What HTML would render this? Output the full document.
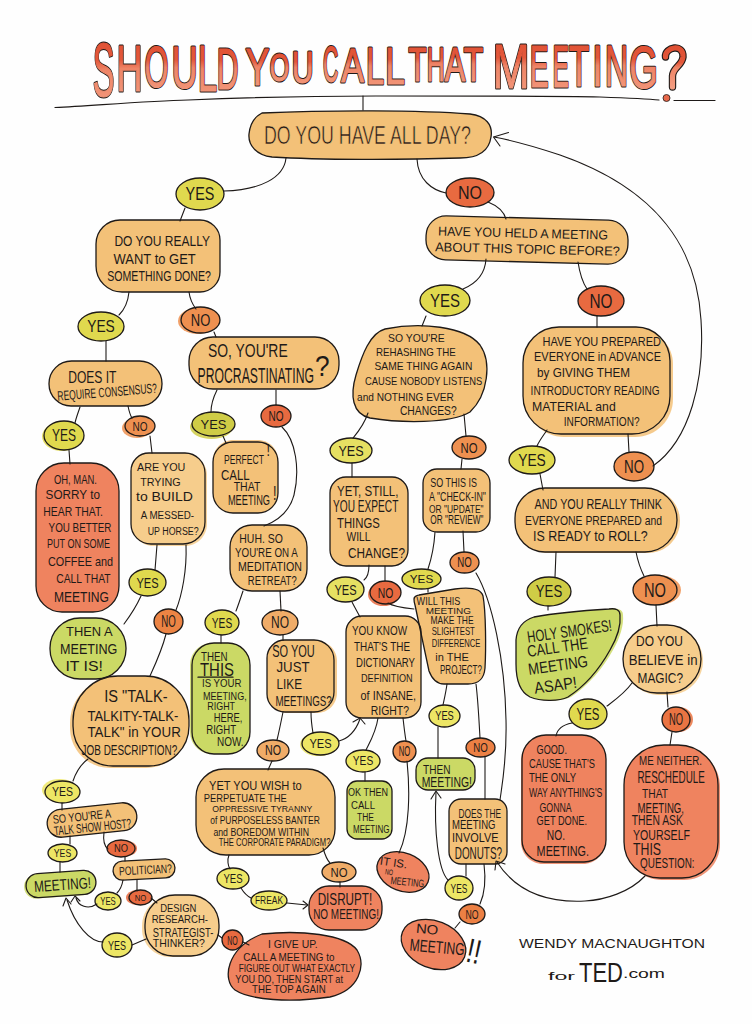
<!DOCTYPE html>
<html><head><meta charset="utf-8"><title>Should you call that meeting?</title>
<style>html,body{margin:0;padding:0;background:#fefefe;}svg{display:block;}
text{font-family:"Liberation Sans",sans-serif;}</style></head>
<body>
<svg width="752" height="1024" viewBox="0 0 752 1024"><defs><linearGradient id="tg" x1="0" y1="0" x2="0" y2="1"><stop offset="0" stop-color="#df5033"/><stop offset="0.38" stop-color="#e3573a"/><stop offset="0.5" stop-color="#ee8466"/><stop offset="1" stop-color="#f39c80"/></linearGradient></defs><rect width="752" height="1024" fill="#fefefe"/><g><path d="M262,113 C330,110 420,110 470,114 C486,116 493,125 491,137 C489,151 478,158 460,158 C400,160 320,160 272,157 C256,155 248,145 249,134 C250,124 254,117 262,113 Z" fill="#f3c178"/><path d="M176.0,194.0 A24.0,16.0 0 1 1 224.0,194.0 A24.0,16.0 0 1 1 176.0,194.0 Z" fill="#e0d94e"/><path d="M446.0,192.5 A24.0,14.5 0 1 1 494.0,192.5 A24.0,14.5 0 1 1 446.0,192.5 Z" fill="#e86a40"/><path d="M446,218 L608,218 C619.046,218 628,226.954 628,238 L628,242 C628,253.046 619.046,262 608,262 L446,262 C434.954,262 426,253.046 426,242 L426,238 C426,226.954 434.954,218 446,218 Z" fill="#f3c178" transform="rotate(1.5 527.0 240.0)"/><path d="M120,220 L200,220 C211.046,220 220,228.954 220,240 L220,272 C220,283.046 211.046,292 200,292 L122,292 C107.6402,292 96,280.3598 96,266 L96,244 C96,230.7448 106.7448,220 120,220 Z" fill="#f3c178"/><path d="M78.0,326.5 A23.0,14.5 0 1 1 124.0,326.5 A23.0,14.5 0 1 1 78.0,326.5 Z" fill="#e0d94e"/><path d="M181.0,320.0 A19.5,13.0 0 1 1 220.0,320.0 A19.5,13.0 0 1 1 181.0,320.0 Z" fill="#ee9050" opacity="0.85" transform="translate(-3 1)"/><path d="M181.0,320.0 A19.5,13.0 0 1 1 220.0,320.0 A19.5,13.0 0 1 1 181.0,320.0 Z" fill="#ee9050"/><path d="M213,337 L315,337 C328.2552,337 339,347.7448 339,361 L339,365 C339,378.2552 328.2552,389 315,389 L213,389 C199.7448,389 189,378.2552 189,365 L189,361 C189,347.7448 199.7448,337 213,337 Z" fill="#f3c178"/><path d="M71.5,361 L139.5,361 C151.92675,361 162,371.07325 162,383.5 L162,384 C162,396.1506 152.1506,406 140,406 L71,406 C58.8494,406 49,396.1506 49,384 L49,383.5 C49,371.07325 59.07325,361 71.5,361 Z" fill="#f3c178"/><path d="M44.0,435.5 A20.0,14.5 0 1 1 84.0,435.5 A20.0,14.5 0 1 1 44.0,435.5 Z" fill="#e0d94e" opacity="0.85" transform="translate(-2 1)"/><path d="M44.0,435.5 A20.0,14.5 0 1 1 84.0,435.5 A20.0,14.5 0 1 1 44.0,435.5 Z" fill="#e0d94e"/><path d="M125.0,426.0 A15.0,10.0 0 1 1 155.0,426.0 A15.0,10.0 0 1 1 125.0,426.0 Z" fill="#ee9050" opacity="0.85" transform="translate(-3 2)"/><path d="M125.0,426.0 A15.0,10.0 0 1 1 155.0,426.0 A15.0,10.0 0 1 1 125.0,426.0 Z" fill="#ee9050"/><path d="M64,463 L91,463 C106.4644,463 119,475.5356 119,491 L119,586 C119,600.3598 107.3598,612 93,612 L62,612 C47.6402,612 36,600.3598 36,586 L36,491 C36,475.5356 48.5356,463 64,463 Z" fill="#ef835f"/><path d="M149,453 L185,453 C196.046,453 205,461.954 205,473 L205,522 C205,534.1506 195.1506,544 183,544 L151,544 C139.954,544 131,535.046 131,524 L131,471 C131,461.0586 139.0586,453 149,453 Z" fill="#f6cd8c" opacity="0.85" transform="translate(2 2)"/><path d="M149,453 L185,453 C196.046,453 205,461.954 205,473 L205,522 C205,534.1506 195.1506,544 183,544 L151,544 C139.954,544 131,535.046 131,524 L131,471 C131,461.0586 139.0586,453 149,453 Z" fill="#f6cd8c"/><path d="M129.0,582.5 A18.5,13.5 0 1 1 166.0,582.5 A18.5,13.5 0 1 1 129.0,582.5 Z" fill="#e0d94e"/><path d="M80,618 L96,618 C112.569,618 126,631.431 126,648 L126,649 C126,665.569 112.569,679 96,679 L80,679 C63.431,679 50,665.569 50,649 L50,648 C50,631.431 63.431,618 80,618 Z" fill="#cbd965"/><path d="M154.0,621.5 A14.5,12.5 0 1 1 183.0,621.5 A14.5,12.5 0 1 1 154.0,621.5 Z" fill="#ec8444"/><path d="M192.0,424.0 A21.5,12.0 0 1 1 235.0,424.0 A21.5,12.0 0 1 1 192.0,424.0 Z" fill="#cfcc46" opacity="0.85" transform="translate(-2 3)"/><path d="M192.0,424.0 A21.5,12.0 0 1 1 235.0,424.0 A21.5,12.0 0 1 1 192.0,424.0 Z" fill="#cfcc46"/><path d="M261.0,416.0 A15.0,11.0 0 1 1 291.0,416.0 A15.0,11.0 0 1 1 261.0,416.0 Z" fill="#e86a40"/><path d="M233,442 L258,442 C269.046,442 278,450.954 278,462 L278,493 C278,504.046 269.046,513 258,513 L233,513 C221.954,513 213,504.046 213,493 L213,462 C213,450.954 221.954,442 233,442 Z" fill="#f3c178" opacity="0.85" transform="translate(0 -2)"/><path d="M233,442 L258,442 C269.046,442 278,450.954 278,462 L278,493 C278,504.046 269.046,513 258,513 L233,513 C221.954,513 213,504.046 213,493 L213,462 C213,450.954 221.954,442 233,442 Z" fill="#f3c178"/><path d="M252,525 L285,525 C297.1506,525 307,534.8494 307,547 L307,569 C307,581.1506 297.1506,591 285,591 L252,591 C239.8494,591 230,581.1506 230,569 L230,547 C230,534.8494 239.8494,525 252,525 Z" fill="#f3c178"/><path d="M205.0,622.5 A17.0,12.5 0 1 1 239.0,622.5 A17.0,12.5 0 1 1 205.0,622.5 Z" fill="#e0d94e"/><path d="M262.0,622.5 A18.0,12.5 0 1 1 298.0,622.5 A18.0,12.5 0 1 1 262.0,622.5 Z" fill="#f0ac68"/><path d="M214,643 L228,643 C240.1506,643 250,652.8494 250,665 L250,732 C250,744.1506 240.1506,754 228,754 L214,754 C201.8494,754 192,744.1506 192,732 L192,665 C192,652.8494 201.8494,643 214,643 Z" fill="#cbd965" opacity="0.85" transform="translate(-2 0)"/><path d="M214,643 L228,643 C240.1506,643 250,652.8494 250,665 L250,732 C250,744.1506 240.1506,754 228,754 L214,754 C201.8494,754 192,744.1506 192,732 L192,665 C192,652.8494 201.8494,643 214,643 Z" fill="#cbd965"/><path d="M285,640 L314,640 C325.046,640 334,648.954 334,660 L334,692 C334,703.046 325.046,712 314,712 L285,712 C275.0586,712 267,703.9414 267,694 L267,658 C267,648.0586 275.0586,640 285,640 Z" fill="#f3c178" opacity="0.85" transform="translate(3 1)"/><path d="M285,640 L314,640 C325.046,640 334,648.954 334,660 L334,692 C334,703.046 325.046,712 314,712 L285,712 C275.0586,712 267,703.9414 267,694 L267,658 C267,648.0586 275.0586,640 285,640 Z" fill="#f3c178"/><path d="M257.0,750.5 A16.0,10.5 0 1 1 289.0,750.5 A16.0,10.5 0 1 1 257.0,750.5 Z" fill="#f0ac68"/><path d="M302.0,743.5 A18.5,11.5 0 1 1 339.0,743.5 A18.5,11.5 0 1 1 302.0,743.5 Z" fill="#ede665" opacity="0.85" transform="translate(-2 1)"/><path d="M302.0,743.5 A18.5,11.5 0 1 1 339.0,743.5 A18.5,11.5 0 1 1 302.0,743.5 Z" fill="#ede665"/><path d="M118.0,676 L145,676 C169.3012,676 189,695.6988 189,720 L189,726 C189,748.092 171.09199999999998,766 149,766 L113,766 C90.908,766 73,748.092 73,726 L73,721.0 C73,696.1465 93.1465,676 118.0,676 Z" fill="#f3c178" opacity="0.85" transform="translate(-3 2)"/><path d="M118.0,676 L145,676 C169.3012,676 189,695.6988 189,720 L189,726 C189,748.092 171.09199999999998,766 149,766 L113,766 C90.908,766 73,748.092 73,726 L73,721.0 C73,696.1465 93.1465,676 118.0,676 Z" fill="#f3c178"/><path d="M45.0,792.0 A17.5,11.0 0 1 1 80.0,792.0 A17.5,11.0 0 1 1 45.0,792.0 Z" fill="#ede665" opacity="0.85" transform="translate(-3 -2)"/><path d="M45.0,792.0 A17.5,11.0 0 1 1 80.0,792.0 A17.5,11.0 0 1 1 45.0,792.0 Z" fill="#ede665"/><path d="M61,806 L123,806 C130.7322,806 137,812.2678 137,820 L137,820 C137,827.7322 130.7322,834 123,834 L61,834 C53.2678,834 47,827.7322 47,820 L47,820 C47,812.2678 53.2678,806 61,806 Z" fill="#f3c178" transform="rotate(-6 92.0 820.0)"/><path d="M48.0,853.0 A14.5,9.0 0 1 1 77.0,853.0 A14.5,9.0 0 1 1 48.0,853.0 Z" fill="#ede665"/><path d="M107.0,848.5 A14.0,8.5 0 1 1 135.0,848.5 A14.0,8.5 0 1 1 107.0,848.5 Z" fill="#e86a40" opacity="0.85" transform="translate(2 0)"/><path d="M107.0,848.5 A14.0,8.5 0 1 1 135.0,848.5 A14.0,8.5 0 1 1 107.0,848.5 Z" fill="#e86a40"/><path d="M38.0,872 L84.0,872 C90.6276,872 96,877.3724 96,884.0 L96,884.0 C96,890.6276 90.6276,896 84.0,896 L38.0,896 C31.3724,896 26,890.6276 26,884.0 L26,884.0 C26,877.3724 31.3724,872 38.0,872 Z" fill="#cbd965" opacity="0.85" transform="translate(-2 1) rotate(-4 61.0 884.0)"/><path d="M38.0,872 L84.0,872 C90.6276,872 96,877.3724 96,884.0 L96,884.0 C96,890.6276 90.6276,896 84.0,896 L38.0,896 C31.3724,896 26,890.6276 26,884.0 L26,884.0 C26,877.3724 31.3724,872 38.0,872 Z" fill="#cbd965" transform="rotate(-4 61.0 884.0)"/><path d="M122.5,860 L165.5,860 C170.74685,860 175,864.25315 175,869.5 L175,869.5 C175,874.74685 170.74685,879 165.5,879 L122.5,879 C117.25315,879 113,874.74685 113,869.5 L113,869.5 C113,864.25315 117.25315,860 122.5,860 Z" fill="#f3c178" transform="rotate(-3 144.0 869.5)"/><path d="M95.0,901.0 A13.0,9.0 0 1 1 121.0,901.0 A13.0,9.0 0 1 1 95.0,901.0 Z" fill="#ede665"/><path d="M129.0,897.5 A11.5,7.5 0 1 1 152.0,897.5 A11.5,7.5 0 1 1 129.0,897.5 Z" fill="#e86a40" opacity="0.85" transform="translate(-3 0)"/><path d="M129.0,897.5 A11.5,7.5 0 1 1 152.0,897.5 A11.5,7.5 0 1 1 129.0,897.5 Z" fill="#e86a40"/><path d="M175,895 L189,895 C205.569,895 219,908.431 219,925 L219,928 C219,943.4644 206.4644,956 191,956 L173,956 C157.5356,956 145,943.4644 145,928 L145,925 C145,908.431 158.431,895 175,895 Z" fill="#f6cd8c" opacity="0.85" transform="translate(-3 1)"/><path d="M175,895 L189,895 C205.569,895 219,908.431 219,925 L219,928 C219,943.4644 206.4644,956 191,956 L173,956 C157.5356,956 145,943.4644 145,928 L145,925 C145,908.431 158.431,895 175,895 Z" fill="#f6cd8c"/><path d="M102.0,945.0 A15.0,12.0 0 1 1 132.0,945.0 A15.0,12.0 0 1 1 102.0,945.0 Z" fill="#ede665"/><path d="M222.0,940.0 A10.5,10.0 0 1 1 243.0,940.0 A10.5,10.0 0 1 1 222.0,940.0 Z" fill="#e86a40"/><path d="M262,934 C300,930 345,934 357,950 C366,965 360,990 330,997 C290,1003 250,1000 235,990 C222,980 226,948 262,934 Z" fill="#ef835f"/><path d="M224,769 L307,769 C322.4644,769 335,781.5356 335,797 L335,829 C335,843.3598 323.3598,855 309,855 L226,855 C209.431,855 196,841.569 196,825 L196,797 C196,781.5356 208.5356,769 224,769 Z" fill="#f3c178"/><path d="M217.0,878.5 A16.0,10.5 0 1 1 249.0,878.5 A16.0,10.5 0 1 1 217.0,878.5 Z" fill="#ede665"/><path d="M251.0,900.5 A18.0,9.5 0 1 1 287.0,900.5 A18.0,9.5 0 1 1 251.0,900.5 Z" fill="#ede665"/><path d="M322.0,872.0 A17.0,10.0 0 1 1 356.0,872.0 A17.0,10.0 0 1 1 322.0,872.0 Z" fill="#f0ac68"/><path d="M329,886 L362,886 C373.046,886 382,894.954 382,906 L382,910 C382,921.046 373.046,930 362,930 L329,930 C317.954,930 309,921.046 309,910 L309,906 C309,894.954 317.954,886 329,886 Z" fill="#ef835f"/><path d="M420.0,300.5 A25.0,15.5 0 1 1 470.0,300.5 A25.0,15.5 0 1 1 420.0,300.5 Z" fill="#e0d94e"/><path d="M385,329 C420,322 465,326 480,345 C492,362 488,395 470,412 C450,424 400,423 370,418 C352,414 350,395 356,375 C362,355 370,333 385,329 Z" fill="#f3c178"/><path d="M452.0,447.5 A17.0,11.5 0 1 1 486.0,447.5 A17.0,11.5 0 1 1 452.0,447.5 Z" fill="#ee9050"/><path d="M330.0,450.5 A21.0,12.5 0 1 1 372.0,450.5 A21.0,12.5 0 1 1 330.0,450.5 Z" fill="#e6e062"/><path d="M346,477 L392,477 C400.8368,477 408,484.1632 408,493 L408,550 C408,558.8368 400.8368,566 392,566 L346,566 C337.1632,566 330,558.8368 330,550 L330,493 C330,484.1632 337.1632,477 346,477 Z" fill="#f3c178"/><path d="M437,469 L476,469 C483.7322,469 490,475.2678 490,483 L490,518 C490,525.7322 483.7322,532 476,532 L437,532 C429.2678,532 423,525.7322 423,518 L423,483 C423,475.2678 429.2678,469 437,469 Z" fill="#f3c178"/><path d="M327.0,589.5 A18.5,12.5 0 1 1 364.0,589.5 A18.5,12.5 0 1 1 327.0,589.5 Z" fill="#e6e062"/><path d="M370.0,592.5 A15.5,11.5 0 1 1 401.0,592.5 A15.5,11.5 0 1 1 370.0,592.5 Z" fill="#e86a40" opacity="0.85" transform="translate(-2 2)"/><path d="M370.0,592.5 A15.5,11.5 0 1 1 401.0,592.5 A15.5,11.5 0 1 1 370.0,592.5 Z" fill="#e86a40"/><path d="M402.0,579.0 A19.5,10.0 0 1 1 441.0,579.0 A19.5,10.0 0 1 1 402.0,579.0 Z" fill="#e0d94e"/><path d="M450.0,562.5 A14.5,10.5 0 1 1 479.0,562.5 A14.5,10.5 0 1 1 450.0,562.5 Z" fill="#ee9050"/><path d="M414,599 C414,596 416,596 419,595 L455,589 C470,587 481,589 483,596 C486,612 486,650 485,668 C484,680 478,684 468,684 L444,684 C436,684 432,679 429,671 L415,605 C414,602 414,600 414,599 Z" fill="#f3c178"/><path d="M362,616 L405,616 C413.8368,616 421,623.1632 421,632 L421,702 C421,710.8368 413.8368,718 405,718 L362,718 C353.1632,718 346,710.8368 346,702 L346,632 C346,623.1632 353.1632,616 362,616 Z" fill="#f3c178"/><path d="M429.0,716.0 A15.5,11.0 0 1 1 460.0,716.0 A15.5,11.0 0 1 1 429.0,716.0 Z" fill="#ede665"/><path d="M466.0,747.5 A14.5,9.5 0 1 1 495.0,747.5 A14.5,9.5 0 1 1 466.0,747.5 Z" fill="#ec8044"/><path d="M393.0,751.5 A11.5,10.5 0 1 1 416.0,751.5 A11.5,10.5 0 1 1 393.0,751.5 Z" fill="#ee9050"/><path d="M346.0,761.0 A17.0,11.0 0 1 1 380.0,761.0 A17.0,11.0 0 1 1 346.0,761.0 Z" fill="#ede665"/><path d="M357,781 L382,781 C387.523,781 392,785.477 392,791 L392,829 C392,834.523 387.523,839 382,839 L357,839 C351.477,839 347,834.523 347,829 L347,791 C347,785.477 351.477,781 357,781 Z" fill="#cbd965"/><path d="M428,758 L463,758 C469.6276,758 475,763.3724 475,770 L475,778 C475,784.6276 469.6276,790 463,790 L428,790 C421.3724,790 416,784.6276 416,778 L416,770 C416,763.3724 421.3724,758 428,758 Z" fill="#cbd965"/><path d="M376.0,872.0 A27.0,19.0 0 1 1 430.0,872.0 A27.0,19.0 0 1 1 376.0,872.0 Z" fill="#ef835f" transform="rotate(22 403.0 872.0)"/><path d="M461,799 L495,799 C501.6276,799 507,804.3724 507,811 L507,852 C507,858.6276 501.6276,864 495,864 L461,864 C454.3724,864 449,858.6276 449,852 L449,811 C449,804.3724 454.3724,799 461,799 Z" fill="#f3c178"/><path d="M445.0,888.0 A14.0,12.0 0 1 1 473.0,888.0 A14.0,12.0 0 1 1 445.0,888.0 Z" fill="#ede665"/><path d="M459.0,914.0 A13.0,10.0 0 1 1 485.0,914.0 A13.0,10.0 0 1 1 459.0,914.0 Z" fill="#ec8044"/><path d="M400.0,944.5 A33.5,23.5 0 1 1 467.0,944.5 A33.5,23.5 0 1 1 400.0,944.5 Z" fill="#ef835f" transform="rotate(22 433.5 944.5)"/><path d="M578.0,301.0 A23.0,15.0 0 1 1 624.0,301.0 A23.0,15.0 0 1 1 578.0,301.0 Z" fill="#e86a40"/><path d="M559,327 L636,327 C654.7782,327 670,342.2218 670,361 L670,396 C670,416.9874 652.9874,434 632,434 L561,434 C540.0126,434 523,416.9874 523,396 L523,363 C523,343.1172 539.1172,327 559,327 Z" fill="#f3c178" opacity="0.85" transform="translate(3 3)"/><path d="M559,327 L636,327 C654.7782,327 670,342.2218 670,361 L670,396 C670,416.9874 652.9874,434 632,434 L561,434 C540.0126,434 523,416.9874 523,396 L523,363 C523,343.1172 539.1172,327 559,327 Z" fill="#f3c178"/><path d="M509.0,460.0 A23.0,14.0 0 1 1 555.0,460.0 A23.0,14.0 0 1 1 509.0,460.0 Z" fill="#e0d94e"/><path d="M614.0,466.5 A20.0,14.5 0 1 1 654.0,466.5 A20.0,14.5 0 1 1 614.0,466.5 Z" fill="#ee9050"/><path d="M545,488 L645,488 C662.6736,488 677,502.3264 677,520 L677,520 C677,537.6736 662.6736,552 645,552 L545,552 C528.431,552 515,538.569 515,522 L515,518 C515,501.431 528.431,488 545,488 Z" fill="#f3c178" opacity="0.85" transform="translate(3 1)"/><path d="M545,488 L645,488 C662.6736,488 677,502.3264 677,520 L677,520 C677,537.6736 662.6736,552 645,552 L545,552 C528.431,552 515,538.569 515,522 L515,518 C515,501.431 528.431,488 545,488 Z" fill="#f3c178"/><path d="M527.0,591.5 A22.0,14.5 0 1 1 571.0,591.5 A22.0,14.5 0 1 1 527.0,591.5 Z" fill="#cfcc46"/><path d="M633.0,590.0 A22.0,15.0 0 1 1 677.0,590.0 A22.0,15.0 0 1 1 633.0,590.0 Z" fill="#ee9050" opacity="0.85" transform="translate(4 0)"/><path d="M633.0,590.0 A22.0,15.0 0 1 1 677.0,590.0 A22.0,15.0 0 1 1 633.0,590.0 Z" fill="#ee9050"/><path d="M534,617 C550,614 575,611 609,609 C616,608 620,610 620,615 C621,625 617,638 610,650 C600,668 585,686 568,697 C558,702 540,701 530,697 C520,692 516,680 516,664 L516,640 C517,628 524,620 534,617 Z" fill="#cbd965" opacity="0.85" transform="translate(3 0)"/><path d="M534,617 C550,614 575,611 609,609 C616,608 620,610 620,615 C621,625 617,638 610,650 C600,668 585,686 568,697 C558,702 540,701 530,697 C520,692 516,680 516,664 L516,640 C517,628 524,620 534,617 Z" fill="#cbd965"/><path d="M657,625 L667,625 C685.7782,625 701,640.2218 701,659 L701,659 C701,677.7782 685.7782,693 667,693 L657,693 C638.2218,693 623,677.7782 623,659 L623,659 C623,640.2218 638.2218,625 657,625 Z" fill="#f6cd8c" opacity="0.85" transform="translate(2 2)"/><path d="M657,625 L667,625 C685.7782,625 701,640.2218 701,659 L701,659 C701,677.7782 685.7782,693 667,693 L657,693 C638.2218,693 623,677.7782 623,659 L623,659 C623,640.2218 638.2218,625 657,625 Z" fill="#f6cd8c"/><path d="M569.0,714.0 A19.0,15.0 0 1 1 607.0,714.0 A19.0,15.0 0 1 1 569.0,714.0 Z" fill="#e0d94e"/><path d="M662.0,719.5 A14.0,12.5 0 1 1 690.0,719.5 A14.0,12.5 0 1 1 662.0,719.5 Z" fill="#ea7442" opacity="0.85" transform="translate(3 0)"/><path d="M662.0,719.5 A14.0,12.5 0 1 1 690.0,719.5 A14.0,12.5 0 1 1 662.0,719.5 Z" fill="#ea7442"/><path d="M546,735 L582,735 C595.2552,735 606,745.7448 606,759 L606,840 C606,852.1506 596.1506,862 584,862 L544,862 C531.8494,862 522,852.1506 522,840 L522,759 C522,745.7448 532.7448,735 546,735 Z" fill="#ef835f" opacity="0.85" transform="translate(-1 2)"/><path d="M546,735 L582,735 C595.2552,735 606,745.7448 606,759 L606,840 C606,852.1506 596.1506,862 584,862 L544,862 C531.8494,862 522,852.1506 522,840 L522,759 C522,745.7448 532.7448,735 546,735 Z" fill="#ef835f"/><path d="M664,745 L678,745 C700.092,745 718,762.908 718,785 L718,842 C718,861.8828 701.8828,878 682,878 L660,878 C640.1172,878 624,861.8828 624,842 L624,785 C624,762.908 641.908,745 664,745 Z" fill="#ef835f" opacity="0.85" transform="translate(2 2)"/><path d="M664,745 L678,745 C700.092,745 718,762.908 718,785 L718,842 C718,861.8828 701.8828,878 682,878 L660,878 C640.1172,878 624,861.8828 624,842 L624,785 C624,762.908 641.908,745 664,745 Z" fill="#ef835f"/></g><g><path d="M55,107.5 C100,105 150,101 188,100 C260,97 320,96 376,96 C470,96 560,96 600,97 C630,98 650,99 659,100" fill="none" stroke="#1e1a18" stroke-width="1.2" stroke-linecap="round" stroke-linejoin="round"/><path d="M674,100.5 L715,100.5" fill="none" stroke="#1e1a18" stroke-width="1.2" stroke-linecap="round" stroke-linejoin="round"/><path d="M363,96 L363,110" fill="none" stroke="#1e1a18" stroke-width="1.1" stroke-linecap="round" stroke-linejoin="round"/><path d="M198,677.2 L233,677.2" fill="none" stroke="#1e1a18" stroke-width="1.3" stroke-linecap="round" stroke-linejoin="round"/><path d="M286,158 C284,178 260,190 224,191" fill="none" stroke="#1e1a18" stroke-width="1.1" stroke-linecap="round" stroke-linejoin="round"/><path d="M417,159 C418,180 432,190 446,193" fill="none" stroke="#1e1a18" stroke-width="1.1" stroke-linecap="round" stroke-linejoin="round"/><path d="M488,202 C498,206 504,212 506,219" fill="none" stroke="#1e1a18" stroke-width="1.1" stroke-linecap="round" stroke-linejoin="round"/><path d="M185,208 L180,221" fill="none" stroke="#1e1a18" stroke-width="1.1" stroke-linecap="round" stroke-linejoin="round"/><path d="M129,292 C128,302 124,310 119,315" fill="none" stroke="#1e1a18" stroke-width="1.1" stroke-linecap="round" stroke-linejoin="round"/><path d="M189,292 C190,300 193,305 196,309" fill="none" stroke="#1e1a18" stroke-width="1.1" stroke-linecap="round" stroke-linejoin="round"/><path d="M214,332 L216,337" fill="none" stroke="#1e1a18" stroke-width="1.1" stroke-linecap="round" stroke-linejoin="round"/><path d="M106,341 L106,361" fill="none" stroke="#1e1a18" stroke-width="1.1" stroke-linecap="round" stroke-linejoin="round"/><path d="M80,407 C78,413 76,418 75,423" fill="none" stroke="#1e1a18" stroke-width="1.1" stroke-linecap="round" stroke-linejoin="round"/><path d="M128,406 C129,411 130,415 132,418" fill="none" stroke="#1e1a18" stroke-width="1.1" stroke-linecap="round" stroke-linejoin="round"/><path d="M69,450 L70,464" fill="none" stroke="#1e1a18" stroke-width="1.1" stroke-linecap="round" stroke-linejoin="round"/><path d="M150,436 L152,453" fill="none" stroke="#1e1a18" stroke-width="1.1" stroke-linecap="round" stroke-linejoin="round"/><path d="M157,545 L155,570" fill="none" stroke="#1e1a18" stroke-width="1.1" stroke-linecap="round" stroke-linejoin="round"/><path d="M141,596 C136,607 130,616 124,624" fill="none" stroke="#1e1a18" stroke-width="1.1" stroke-linecap="round" stroke-linejoin="round"/><path d="M186,545 C187,570 182,595 176,610" fill="none" stroke="#1e1a18" stroke-width="1.1" stroke-linecap="round" stroke-linejoin="round"/><path d="M166,634 C162,650 155,665 150,676" fill="none" stroke="#1e1a18" stroke-width="1.1" stroke-linecap="round" stroke-linejoin="round"/><path d="M217,390 C213,398 211,405 211,412" fill="none" stroke="#1e1a18" stroke-width="1.1" stroke-linecap="round" stroke-linejoin="round"/><path d="M276,390 L276,405" fill="none" stroke="#1e1a18" stroke-width="1.1" stroke-linecap="round" stroke-linejoin="round"/><path d="M223,436 L226,443" fill="none" stroke="#1e1a18" stroke-width="1.1" stroke-linecap="round" stroke-linejoin="round"/><path d="M282,427 C296,440 300,470 294,495 C290,510 280,520 264,526" fill="none" stroke="#1e1a18" stroke-width="1.1" stroke-linecap="round" stroke-linejoin="round"/><path d="M243,591 C240,600 238,606 236,611" fill="none" stroke="#1e1a18" stroke-width="1.1" stroke-linecap="round" stroke-linejoin="round"/><path d="M280,591 L281,611" fill="none" stroke="#1e1a18" stroke-width="1.1" stroke-linecap="round" stroke-linejoin="round"/><path d="M221,635 L221,643" fill="none" stroke="#1e1a18" stroke-width="1.1" stroke-linecap="round" stroke-linejoin="round"/><path d="M283,635 L283,640" fill="none" stroke="#1e1a18" stroke-width="1.1" stroke-linecap="round" stroke-linejoin="round"/><path d="M283,712 C281,722 279,732 277,740" fill="none" stroke="#1e1a18" stroke-width="1.1" stroke-linecap="round" stroke-linejoin="round"/><path d="M311,712 C311,720 312,727 313,733" fill="none" stroke="#1e1a18" stroke-width="1.1" stroke-linecap="round" stroke-linejoin="round"/><path d="M339,741 C350,738 356,730 360,719" fill="none" stroke="#1e1a18" stroke-width="1.1" stroke-linecap="round" stroke-linejoin="round"/><path d="M353,722 L360,718 L365,724" fill="none" stroke="#1e1a18" stroke-width="1.1" stroke-linecap="round" stroke-linejoin="round"/><path d="M272,761 L268,770" fill="none" stroke="#1e1a18" stroke-width="1.1" stroke-linecap="round" stroke-linejoin="round"/><path d="M88,759 C80,765 76,772 73,781" fill="none" stroke="#1e1a18" stroke-width="1.1" stroke-linecap="round" stroke-linejoin="round"/><path d="M62,803 L62,810" fill="none" stroke="#1e1a18" stroke-width="1.1" stroke-linecap="round" stroke-linejoin="round"/><path d="M70,836 L70,844" fill="none" stroke="#1e1a18" stroke-width="1.1" stroke-linecap="round" stroke-linejoin="round"/><path d="M104,832 C103,840 104,846 108,849" fill="none" stroke="#1e1a18" stroke-width="1.1" stroke-linecap="round" stroke-linejoin="round"/><path d="M60,862 L60,872" fill="none" stroke="#1e1a18" stroke-width="1.1" stroke-linecap="round" stroke-linejoin="round"/><path d="M125,857 L125,861" fill="none" stroke="#1e1a18" stroke-width="1.1" stroke-linecap="round" stroke-linejoin="round"/><path d="M123,880 C122,886 120,890 117,893" fill="none" stroke="#1e1a18" stroke-width="1.1" stroke-linecap="round" stroke-linejoin="round"/><path d="M137,880 L137,891" fill="none" stroke="#1e1a18" stroke-width="1.1" stroke-linecap="round" stroke-linejoin="round"/><path d="M97,904 C88,910 78,906 76,898" fill="none" stroke="#1e1a18" stroke-width="1.1" stroke-linecap="round" stroke-linejoin="round"/><path d="M71,902 L75,896 L80,901" fill="none" stroke="#1e1a18" stroke-width="1.1" stroke-linecap="round" stroke-linejoin="round"/><path d="M103,942 C90,942 75,925 67,900" fill="none" stroke="#1e1a18" stroke-width="1.1" stroke-linecap="round" stroke-linejoin="round"/><path d="M63,906 L66,898 L71,904" fill="none" stroke="#1e1a18" stroke-width="1.1" stroke-linecap="round" stroke-linejoin="round"/><path d="M151,898 L157,903" fill="none" stroke="#1e1a18" stroke-width="1.1" stroke-linecap="round" stroke-linejoin="round"/><path d="M132,945 L146,939" fill="none" stroke="#1e1a18" stroke-width="1.1" stroke-linecap="round" stroke-linejoin="round"/><path d="M218,935 L222,938" fill="none" stroke="#1e1a18" stroke-width="1.1" stroke-linecap="round" stroke-linejoin="round"/><path d="M243,942 L249,945" fill="none" stroke="#1e1a18" stroke-width="1.1" stroke-linecap="round" stroke-linejoin="round"/><path d="M229,855 C227,860 228,866 230,869" fill="none" stroke="#1e1a18" stroke-width="1.1" stroke-linecap="round" stroke-linejoin="round"/><path d="M241,888 C244,893 247,896 251,898" fill="none" stroke="#1e1a18" stroke-width="1.1" stroke-linecap="round" stroke-linejoin="round"/><path d="M287,903 L307,905" fill="none" stroke="#1e1a18" stroke-width="1.1" stroke-linecap="round" stroke-linejoin="round"/><path d="M303,901 L308,905 L303,909" fill="none" stroke="#1e1a18" stroke-width="1.1" stroke-linecap="round" stroke-linejoin="round"/><path d="M323,848 C325,855 327,860 330,863" fill="none" stroke="#1e1a18" stroke-width="1.1" stroke-linecap="round" stroke-linejoin="round"/><path d="M340,882 L340,887" fill="none" stroke="#1e1a18" stroke-width="1.1" stroke-linecap="round" stroke-linejoin="round"/><path d="M486,259 C485,275 475,284 463,289" fill="none" stroke="#1e1a18" stroke-width="1.1" stroke-linecap="round" stroke-linejoin="round"/><path d="M578,262 C580,275 583,283 587,289" fill="none" stroke="#1e1a18" stroke-width="1.1" stroke-linecap="round" stroke-linejoin="round"/><path d="M426,316 L422,326" fill="none" stroke="#1e1a18" stroke-width="1.1" stroke-linecap="round" stroke-linejoin="round"/><path d="M368,413 C364,425 358,432 353,438" fill="none" stroke="#1e1a18" stroke-width="1.1" stroke-linecap="round" stroke-linejoin="round"/><path d="M464,414 L466,436" fill="none" stroke="#1e1a18" stroke-width="1.1" stroke-linecap="round" stroke-linejoin="round"/><path d="M462,459 L461,469" fill="none" stroke="#1e1a18" stroke-width="1.1" stroke-linecap="round" stroke-linejoin="round"/><path d="M352,463 L352,477" fill="none" stroke="#1e1a18" stroke-width="1.1" stroke-linecap="round" stroke-linejoin="round"/><path d="M369,565 C369,572 368,577 364,580" fill="none" stroke="#1e1a18" stroke-width="1.1" stroke-linecap="round" stroke-linejoin="round"/><path d="M385,566 L385,581" fill="none" stroke="#1e1a18" stroke-width="1.1" stroke-linecap="round" stroke-linejoin="round"/><path d="M435,532 C434,548 431,560 428,569" fill="none" stroke="#1e1a18" stroke-width="1.1" stroke-linecap="round" stroke-linejoin="round"/><path d="M463,531 L464,552" fill="none" stroke="#1e1a18" stroke-width="1.1" stroke-linecap="round" stroke-linejoin="round"/><path d="M476,573 C492,600 505,660 506,720 C507,760 502,785 500,800" fill="none" stroke="#1e1a18" stroke-width="1.1" stroke-linecap="round" stroke-linejoin="round"/><path d="M388,603 C394,607 404,608 414,609" fill="none" stroke="#1e1a18" stroke-width="1.1" stroke-linecap="round" stroke-linejoin="round"/><path d="M352,602 C355,608 358,613 360,617" fill="none" stroke="#1e1a18" stroke-width="1.1" stroke-linecap="round" stroke-linejoin="round"/><path d="M428,589 L428,592" fill="none" stroke="#1e1a18" stroke-width="1.1" stroke-linecap="round" stroke-linejoin="round"/><path d="M447,684 C446,692 444,700 443,705" fill="none" stroke="#1e1a18" stroke-width="1.1" stroke-linecap="round" stroke-linejoin="round"/><path d="M476,684 C478,700 479,720 480,738" fill="none" stroke="#1e1a18" stroke-width="1.1" stroke-linecap="round" stroke-linejoin="round"/><path d="M378,718 C376,732 370,742 366,750" fill="none" stroke="#1e1a18" stroke-width="1.1" stroke-linecap="round" stroke-linejoin="round"/><path d="M403,718 C404,727 405,735 406,741" fill="none" stroke="#1e1a18" stroke-width="1.1" stroke-linecap="round" stroke-linejoin="round"/><path d="M365,772 L365,781" fill="none" stroke="#1e1a18" stroke-width="1.1" stroke-linecap="round" stroke-linejoin="round"/><path d="M407,761 C410,790 410,830 399,853" fill="none" stroke="#1e1a18" stroke-width="1.1" stroke-linecap="round" stroke-linejoin="round"/><path d="M438,727 L438,758" fill="none" stroke="#1e1a18" stroke-width="1.1" stroke-linecap="round" stroke-linejoin="round"/><path d="M485,756 L485,799" fill="none" stroke="#1e1a18" stroke-width="1.1" stroke-linecap="round" stroke-linejoin="round"/><path d="M466,864 L466,876" fill="none" stroke="#1e1a18" stroke-width="1.1" stroke-linecap="round" stroke-linejoin="round"/><path d="M484,864 C486,880 484,895 480,904" fill="none" stroke="#1e1a18" stroke-width="1.1" stroke-linecap="round" stroke-linejoin="round"/><path d="M448,880 C438,870 434,830 436,792" fill="none" stroke="#1e1a18" stroke-width="1.1" stroke-linecap="round" stroke-linejoin="round"/><path d="M431,799 L436,791 L441,798" fill="none" stroke="#1e1a18" stroke-width="1.1" stroke-linecap="round" stroke-linejoin="round"/><path d="M460,922 L455,928" fill="none" stroke="#1e1a18" stroke-width="1.1" stroke-linecap="round" stroke-linejoin="round"/><path d="M597,316 L597,327" fill="none" stroke="#1e1a18" stroke-width="1.1" stroke-linecap="round" stroke-linejoin="round"/><path d="M547,430 C543,436 539,441 537,446" fill="none" stroke="#1e1a18" stroke-width="1.1" stroke-linecap="round" stroke-linejoin="round"/><path d="M628,434 L629,452" fill="none" stroke="#1e1a18" stroke-width="1.1" stroke-linecap="round" stroke-linejoin="round"/><path d="M653,466 C690,440 705,380 701,320 C697,250 660,190 560,155 C530,145 510,140 494,137" fill="none" stroke="#1e1a18" stroke-width="1.1" stroke-linecap="round" stroke-linejoin="round"/><path d="M508.5,132.5 L493.5,137 L500,146" fill="none" stroke="#1e1a18" stroke-width="1.1" stroke-linecap="round" stroke-linejoin="round"/><path d="M540,474 L543,490" fill="none" stroke="#1e1a18" stroke-width="1.1" stroke-linecap="round" stroke-linejoin="round"/><path d="M556,552 L555,577" fill="none" stroke="#1e1a18" stroke-width="1.1" stroke-linecap="round" stroke-linejoin="round"/><path d="M636,552 C638,562 641,570 644,576" fill="none" stroke="#1e1a18" stroke-width="1.1" stroke-linecap="round" stroke-linejoin="round"/><path d="M548,606 L548,610" fill="none" stroke="#1e1a18" stroke-width="1.1" stroke-linecap="round" stroke-linejoin="round"/><path d="M656,605 L657,626" fill="none" stroke="#1e1a18" stroke-width="1.1" stroke-linecap="round" stroke-linejoin="round"/><path d="M632,683 C625,693 615,700 607,706" fill="none" stroke="#1e1a18" stroke-width="1.1" stroke-linecap="round" stroke-linejoin="round"/><path d="M667,692 L668,707" fill="none" stroke="#1e1a18" stroke-width="1.1" stroke-linecap="round" stroke-linejoin="round"/><path d="M572,723 C562,725 557,730 556,736" fill="none" stroke="#1e1a18" stroke-width="1.1" stroke-linecap="round" stroke-linejoin="round"/><path d="M672,732 L670,745" fill="none" stroke="#1e1a18" stroke-width="1.1" stroke-linecap="round" stroke-linejoin="round"/><path d="M645,876 C630,892 605,900 585,901 C545,903 515,890 497,862" fill="none" stroke="#1e1a18" stroke-width="1.1" stroke-linecap="round" stroke-linejoin="round"/><path d="M495,870 L496,861 L505,864" fill="none" stroke="#1e1a18" stroke-width="1.1" stroke-linecap="round" stroke-linejoin="round"/></g><g><path d="M262,113 C330,110 420,110 470,114 C486,116 493,125 491,137 C489,151 478,158 460,158 C400,160 320,160 272,157 C256,155 248,145 249,134 C250,124 254,117 262,113 Z" fill="none" stroke="#1e1a18" stroke-width="1.3"/><path d="M176.0,194.0 A24.0,16.0 0 1 1 224.0,194.0 A24.0,16.0 0 1 1 176.0,194.0 Z" fill="none" stroke="#1e1a18" stroke-width="1.3"/><path d="M446.0,192.5 A24.0,14.5 0 1 1 494.0,192.5 A24.0,14.5 0 1 1 446.0,192.5 Z" fill="none" stroke="#1e1a18" stroke-width="1.3"/><path d="M446,218 L608,218 C619.046,218 628,226.954 628,238 L628,242 C628,253.046 619.046,262 608,262 L446,262 C434.954,262 426,253.046 426,242 L426,238 C426,226.954 434.954,218 446,218 Z" fill="none" stroke="#1e1a18" stroke-width="1.3" transform="rotate(1.5 527.0 240.0)"/><path d="M120,220 L200,220 C211.046,220 220,228.954 220,240 L220,272 C220,283.046 211.046,292 200,292 L122,292 C107.6402,292 96,280.3598 96,266 L96,244 C96,230.7448 106.7448,220 120,220 Z" fill="none" stroke="#1e1a18" stroke-width="1.3"/><path d="M78.0,326.5 A23.0,14.5 0 1 1 124.0,326.5 A23.0,14.5 0 1 1 78.0,326.5 Z" fill="none" stroke="#1e1a18" stroke-width="1.3"/><path d="M181.0,320.0 A19.5,13.0 0 1 1 220.0,320.0 A19.5,13.0 0 1 1 181.0,320.0 Z" fill="none" stroke="#1e1a18" stroke-width="1.3"/><path d="M213,337 L315,337 C328.2552,337 339,347.7448 339,361 L339,365 C339,378.2552 328.2552,389 315,389 L213,389 C199.7448,389 189,378.2552 189,365 L189,361 C189,347.7448 199.7448,337 213,337 Z" fill="none" stroke="#1e1a18" stroke-width="1.3"/><path d="M71.5,361 L139.5,361 C151.92675,361 162,371.07325 162,383.5 L162,384 C162,396.1506 152.1506,406 140,406 L71,406 C58.8494,406 49,396.1506 49,384 L49,383.5 C49,371.07325 59.07325,361 71.5,361 Z" fill="none" stroke="#1e1a18" stroke-width="1.3"/><path d="M44.0,435.5 A20.0,14.5 0 1 1 84.0,435.5 A20.0,14.5 0 1 1 44.0,435.5 Z" fill="none" stroke="#1e1a18" stroke-width="1.3"/><path d="M125.0,426.0 A15.0,10.0 0 1 1 155.0,426.0 A15.0,10.0 0 1 1 125.0,426.0 Z" fill="none" stroke="#1e1a18" stroke-width="1.3"/><path d="M64,463 L91,463 C106.4644,463 119,475.5356 119,491 L119,586 C119,600.3598 107.3598,612 93,612 L62,612 C47.6402,612 36,600.3598 36,586 L36,491 C36,475.5356 48.5356,463 64,463 Z" fill="none" stroke="#1e1a18" stroke-width="1.3"/><path d="M149,453 L185,453 C196.046,453 205,461.954 205,473 L205,522 C205,534.1506 195.1506,544 183,544 L151,544 C139.954,544 131,535.046 131,524 L131,471 C131,461.0586 139.0586,453 149,453 Z" fill="none" stroke="#1e1a18" stroke-width="1.3"/><path d="M129.0,582.5 A18.5,13.5 0 1 1 166.0,582.5 A18.5,13.5 0 1 1 129.0,582.5 Z" fill="none" stroke="#1e1a18" stroke-width="1.3"/><path d="M80,618 L96,618 C112.569,618 126,631.431 126,648 L126,649 C126,665.569 112.569,679 96,679 L80,679 C63.431,679 50,665.569 50,649 L50,648 C50,631.431 63.431,618 80,618 Z" fill="none" stroke="#1e1a18" stroke-width="1.3"/><path d="M154.0,621.5 A14.5,12.5 0 1 1 183.0,621.5 A14.5,12.5 0 1 1 154.0,621.5 Z" fill="none" stroke="#1e1a18" stroke-width="1.3"/><path d="M192.0,424.0 A21.5,12.0 0 1 1 235.0,424.0 A21.5,12.0 0 1 1 192.0,424.0 Z" fill="none" stroke="#1e1a18" stroke-width="1.3"/><path d="M261.0,416.0 A15.0,11.0 0 1 1 291.0,416.0 A15.0,11.0 0 1 1 261.0,416.0 Z" fill="none" stroke="#1e1a18" stroke-width="1.3"/><path d="M233,442 L258,442 C269.046,442 278,450.954 278,462 L278,493 C278,504.046 269.046,513 258,513 L233,513 C221.954,513 213,504.046 213,493 L213,462 C213,450.954 221.954,442 233,442 Z" fill="none" stroke="#1e1a18" stroke-width="1.3"/><path d="M252,525 L285,525 C297.1506,525 307,534.8494 307,547 L307,569 C307,581.1506 297.1506,591 285,591 L252,591 C239.8494,591 230,581.1506 230,569 L230,547 C230,534.8494 239.8494,525 252,525 Z" fill="none" stroke="#1e1a18" stroke-width="1.3"/><path d="M205.0,622.5 A17.0,12.5 0 1 1 239.0,622.5 A17.0,12.5 0 1 1 205.0,622.5 Z" fill="none" stroke="#1e1a18" stroke-width="1.3"/><path d="M262.0,622.5 A18.0,12.5 0 1 1 298.0,622.5 A18.0,12.5 0 1 1 262.0,622.5 Z" fill="none" stroke="#1e1a18" stroke-width="1.3"/><path d="M214,643 L228,643 C240.1506,643 250,652.8494 250,665 L250,732 C250,744.1506 240.1506,754 228,754 L214,754 C201.8494,754 192,744.1506 192,732 L192,665 C192,652.8494 201.8494,643 214,643 Z" fill="none" stroke="#1e1a18" stroke-width="1.3"/><path d="M285,640 L314,640 C325.046,640 334,648.954 334,660 L334,692 C334,703.046 325.046,712 314,712 L285,712 C275.0586,712 267,703.9414 267,694 L267,658 C267,648.0586 275.0586,640 285,640 Z" fill="none" stroke="#1e1a18" stroke-width="1.3"/><path d="M257.0,750.5 A16.0,10.5 0 1 1 289.0,750.5 A16.0,10.5 0 1 1 257.0,750.5 Z" fill="none" stroke="#1e1a18" stroke-width="1.3"/><path d="M302.0,743.5 A18.5,11.5 0 1 1 339.0,743.5 A18.5,11.5 0 1 1 302.0,743.5 Z" fill="none" stroke="#1e1a18" stroke-width="1.3"/><path d="M118.0,676 L145,676 C169.3012,676 189,695.6988 189,720 L189,726 C189,748.092 171.09199999999998,766 149,766 L113,766 C90.908,766 73,748.092 73,726 L73,721.0 C73,696.1465 93.1465,676 118.0,676 Z" fill="none" stroke="#1e1a18" stroke-width="1.3"/><path d="M45.0,792.0 A17.5,11.0 0 1 1 80.0,792.0 A17.5,11.0 0 1 1 45.0,792.0 Z" fill="none" stroke="#1e1a18" stroke-width="1.3"/><path d="M61,806 L123,806 C130.7322,806 137,812.2678 137,820 L137,820 C137,827.7322 130.7322,834 123,834 L61,834 C53.2678,834 47,827.7322 47,820 L47,820 C47,812.2678 53.2678,806 61,806 Z" fill="none" stroke="#1e1a18" stroke-width="1.3" transform="rotate(-6 92.0 820.0)"/><path d="M48.0,853.0 A14.5,9.0 0 1 1 77.0,853.0 A14.5,9.0 0 1 1 48.0,853.0 Z" fill="none" stroke="#1e1a18" stroke-width="1.3"/><path d="M107.0,848.5 A14.0,8.5 0 1 1 135.0,848.5 A14.0,8.5 0 1 1 107.0,848.5 Z" fill="none" stroke="#1e1a18" stroke-width="1.3"/><path d="M38.0,872 L84.0,872 C90.6276,872 96,877.3724 96,884.0 L96,884.0 C96,890.6276 90.6276,896 84.0,896 L38.0,896 C31.3724,896 26,890.6276 26,884.0 L26,884.0 C26,877.3724 31.3724,872 38.0,872 Z" fill="none" stroke="#1e1a18" stroke-width="1.3" transform="rotate(-4 61.0 884.0)"/><path d="M122.5,860 L165.5,860 C170.74685,860 175,864.25315 175,869.5 L175,869.5 C175,874.74685 170.74685,879 165.5,879 L122.5,879 C117.25315,879 113,874.74685 113,869.5 L113,869.5 C113,864.25315 117.25315,860 122.5,860 Z" fill="none" stroke="#1e1a18" stroke-width="1.3" transform="rotate(-3 144.0 869.5)"/><path d="M95.0,901.0 A13.0,9.0 0 1 1 121.0,901.0 A13.0,9.0 0 1 1 95.0,901.0 Z" fill="none" stroke="#1e1a18" stroke-width="1.3"/><path d="M129.0,897.5 A11.5,7.5 0 1 1 152.0,897.5 A11.5,7.5 0 1 1 129.0,897.5 Z" fill="none" stroke="#1e1a18" stroke-width="1.3"/><path d="M175,895 L189,895 C205.569,895 219,908.431 219,925 L219,928 C219,943.4644 206.4644,956 191,956 L173,956 C157.5356,956 145,943.4644 145,928 L145,925 C145,908.431 158.431,895 175,895 Z" fill="none" stroke="#1e1a18" stroke-width="1.3"/><path d="M102.0,945.0 A15.0,12.0 0 1 1 132.0,945.0 A15.0,12.0 0 1 1 102.0,945.0 Z" fill="none" stroke="#1e1a18" stroke-width="1.3"/><path d="M222.0,940.0 A10.5,10.0 0 1 1 243.0,940.0 A10.5,10.0 0 1 1 222.0,940.0 Z" fill="none" stroke="#1e1a18" stroke-width="1.3"/><path d="M262,934 C300,930 345,934 357,950 C366,965 360,990 330,997 C290,1003 250,1000 235,990 C222,980 226,948 262,934 Z" fill="none" stroke="#1e1a18" stroke-width="1.3"/><path d="M224,769 L307,769 C322.4644,769 335,781.5356 335,797 L335,829 C335,843.3598 323.3598,855 309,855 L226,855 C209.431,855 196,841.569 196,825 L196,797 C196,781.5356 208.5356,769 224,769 Z" fill="none" stroke="#1e1a18" stroke-width="1.3"/><path d="M217.0,878.5 A16.0,10.5 0 1 1 249.0,878.5 A16.0,10.5 0 1 1 217.0,878.5 Z" fill="none" stroke="#1e1a18" stroke-width="1.3"/><path d="M251.0,900.5 A18.0,9.5 0 1 1 287.0,900.5 A18.0,9.5 0 1 1 251.0,900.5 Z" fill="none" stroke="#1e1a18" stroke-width="1.3"/><path d="M322.0,872.0 A17.0,10.0 0 1 1 356.0,872.0 A17.0,10.0 0 1 1 322.0,872.0 Z" fill="none" stroke="#1e1a18" stroke-width="1.3"/><path d="M329,886 L362,886 C373.046,886 382,894.954 382,906 L382,910 C382,921.046 373.046,930 362,930 L329,930 C317.954,930 309,921.046 309,910 L309,906 C309,894.954 317.954,886 329,886 Z" fill="none" stroke="#1e1a18" stroke-width="1.3"/><path d="M420.0,300.5 A25.0,15.5 0 1 1 470.0,300.5 A25.0,15.5 0 1 1 420.0,300.5 Z" fill="none" stroke="#1e1a18" stroke-width="1.3"/><path d="M385,329 C420,322 465,326 480,345 C492,362 488,395 470,412 C450,424 400,423 370,418 C352,414 350,395 356,375 C362,355 370,333 385,329 Z" fill="none" stroke="#1e1a18" stroke-width="1.3"/><path d="M452.0,447.5 A17.0,11.5 0 1 1 486.0,447.5 A17.0,11.5 0 1 1 452.0,447.5 Z" fill="none" stroke="#1e1a18" stroke-width="1.3"/><path d="M330.0,450.5 A21.0,12.5 0 1 1 372.0,450.5 A21.0,12.5 0 1 1 330.0,450.5 Z" fill="none" stroke="#1e1a18" stroke-width="1.3"/><path d="M346,477 L392,477 C400.8368,477 408,484.1632 408,493 L408,550 C408,558.8368 400.8368,566 392,566 L346,566 C337.1632,566 330,558.8368 330,550 L330,493 C330,484.1632 337.1632,477 346,477 Z" fill="none" stroke="#1e1a18" stroke-width="1.3"/><path d="M437,469 L476,469 C483.7322,469 490,475.2678 490,483 L490,518 C490,525.7322 483.7322,532 476,532 L437,532 C429.2678,532 423,525.7322 423,518 L423,483 C423,475.2678 429.2678,469 437,469 Z" fill="none" stroke="#1e1a18" stroke-width="1.3"/><path d="M327.0,589.5 A18.5,12.5 0 1 1 364.0,589.5 A18.5,12.5 0 1 1 327.0,589.5 Z" fill="none" stroke="#1e1a18" stroke-width="1.3"/><path d="M370.0,592.5 A15.5,11.5 0 1 1 401.0,592.5 A15.5,11.5 0 1 1 370.0,592.5 Z" fill="none" stroke="#1e1a18" stroke-width="1.3"/><path d="M402.0,579.0 A19.5,10.0 0 1 1 441.0,579.0 A19.5,10.0 0 1 1 402.0,579.0 Z" fill="none" stroke="#1e1a18" stroke-width="1.3"/><path d="M450.0,562.5 A14.5,10.5 0 1 1 479.0,562.5 A14.5,10.5 0 1 1 450.0,562.5 Z" fill="none" stroke="#1e1a18" stroke-width="1.3"/><path d="M414,599 C414,596 416,596 419,595 L455,589 C470,587 481,589 483,596 C486,612 486,650 485,668 C484,680 478,684 468,684 L444,684 C436,684 432,679 429,671 L415,605 C414,602 414,600 414,599 Z" fill="none" stroke="#1e1a18" stroke-width="1.3"/><path d="M362,616 L405,616 C413.8368,616 421,623.1632 421,632 L421,702 C421,710.8368 413.8368,718 405,718 L362,718 C353.1632,718 346,710.8368 346,702 L346,632 C346,623.1632 353.1632,616 362,616 Z" fill="none" stroke="#1e1a18" stroke-width="1.3"/><path d="M429.0,716.0 A15.5,11.0 0 1 1 460.0,716.0 A15.5,11.0 0 1 1 429.0,716.0 Z" fill="none" stroke="#1e1a18" stroke-width="1.3"/><path d="M466.0,747.5 A14.5,9.5 0 1 1 495.0,747.5 A14.5,9.5 0 1 1 466.0,747.5 Z" fill="none" stroke="#1e1a18" stroke-width="1.3"/><path d="M393.0,751.5 A11.5,10.5 0 1 1 416.0,751.5 A11.5,10.5 0 1 1 393.0,751.5 Z" fill="none" stroke="#1e1a18" stroke-width="1.3"/><path d="M346.0,761.0 A17.0,11.0 0 1 1 380.0,761.0 A17.0,11.0 0 1 1 346.0,761.0 Z" fill="none" stroke="#1e1a18" stroke-width="1.3"/><path d="M357,781 L382,781 C387.523,781 392,785.477 392,791 L392,829 C392,834.523 387.523,839 382,839 L357,839 C351.477,839 347,834.523 347,829 L347,791 C347,785.477 351.477,781 357,781 Z" fill="none" stroke="#1e1a18" stroke-width="1.3"/><path d="M428,758 L463,758 C469.6276,758 475,763.3724 475,770 L475,778 C475,784.6276 469.6276,790 463,790 L428,790 C421.3724,790 416,784.6276 416,778 L416,770 C416,763.3724 421.3724,758 428,758 Z" fill="none" stroke="#1e1a18" stroke-width="1.3"/><path d="M376.0,872.0 A27.0,19.0 0 1 1 430.0,872.0 A27.0,19.0 0 1 1 376.0,872.0 Z" fill="none" stroke="#1e1a18" stroke-width="1.3" transform="rotate(22 403.0 872.0)"/><path d="M461,799 L495,799 C501.6276,799 507,804.3724 507,811 L507,852 C507,858.6276 501.6276,864 495,864 L461,864 C454.3724,864 449,858.6276 449,852 L449,811 C449,804.3724 454.3724,799 461,799 Z" fill="none" stroke="#1e1a18" stroke-width="1.3"/><path d="M445.0,888.0 A14.0,12.0 0 1 1 473.0,888.0 A14.0,12.0 0 1 1 445.0,888.0 Z" fill="none" stroke="#1e1a18" stroke-width="1.3"/><path d="M459.0,914.0 A13.0,10.0 0 1 1 485.0,914.0 A13.0,10.0 0 1 1 459.0,914.0 Z" fill="none" stroke="#1e1a18" stroke-width="1.3"/><path d="M400.0,944.5 A33.5,23.5 0 1 1 467.0,944.5 A33.5,23.5 0 1 1 400.0,944.5 Z" fill="none" stroke="#1e1a18" stroke-width="1.3" transform="rotate(22 433.5 944.5)"/><path d="M578.0,301.0 A23.0,15.0 0 1 1 624.0,301.0 A23.0,15.0 0 1 1 578.0,301.0 Z" fill="none" stroke="#1e1a18" stroke-width="1.3"/><path d="M559,327 L636,327 C654.7782,327 670,342.2218 670,361 L670,396 C670,416.9874 652.9874,434 632,434 L561,434 C540.0126,434 523,416.9874 523,396 L523,363 C523,343.1172 539.1172,327 559,327 Z" fill="none" stroke="#1e1a18" stroke-width="1.3"/><path d="M509.0,460.0 A23.0,14.0 0 1 1 555.0,460.0 A23.0,14.0 0 1 1 509.0,460.0 Z" fill="none" stroke="#1e1a18" stroke-width="1.3"/><path d="M614.0,466.5 A20.0,14.5 0 1 1 654.0,466.5 A20.0,14.5 0 1 1 614.0,466.5 Z" fill="none" stroke="#1e1a18" stroke-width="1.3"/><path d="M545,488 L645,488 C662.6736,488 677,502.3264 677,520 L677,520 C677,537.6736 662.6736,552 645,552 L545,552 C528.431,552 515,538.569 515,522 L515,518 C515,501.431 528.431,488 545,488 Z" fill="none" stroke="#1e1a18" stroke-width="1.3"/><path d="M527.0,591.5 A22.0,14.5 0 1 1 571.0,591.5 A22.0,14.5 0 1 1 527.0,591.5 Z" fill="none" stroke="#1e1a18" stroke-width="1.3"/><path d="M633.0,590.0 A22.0,15.0 0 1 1 677.0,590.0 A22.0,15.0 0 1 1 633.0,590.0 Z" fill="none" stroke="#1e1a18" stroke-width="1.3"/><path d="M534,617 C550,614 575,611 609,609 C616,608 620,610 620,615 C621,625 617,638 610,650 C600,668 585,686 568,697 C558,702 540,701 530,697 C520,692 516,680 516,664 L516,640 C517,628 524,620 534,617 Z" fill="none" stroke="#1e1a18" stroke-width="1.3"/><path d="M657,625 L667,625 C685.7782,625 701,640.2218 701,659 L701,659 C701,677.7782 685.7782,693 667,693 L657,693 C638.2218,693 623,677.7782 623,659 L623,659 C623,640.2218 638.2218,625 657,625 Z" fill="none" stroke="#1e1a18" stroke-width="1.3"/><path d="M569.0,714.0 A19.0,15.0 0 1 1 607.0,714.0 A19.0,15.0 0 1 1 569.0,714.0 Z" fill="none" stroke="#1e1a18" stroke-width="1.3"/><path d="M662.0,719.5 A14.0,12.5 0 1 1 690.0,719.5 A14.0,12.5 0 1 1 662.0,719.5 Z" fill="none" stroke="#1e1a18" stroke-width="1.3"/><path d="M546,735 L582,735 C595.2552,735 606,745.7448 606,759 L606,840 C606,852.1506 596.1506,862 584,862 L544,862 C531.8494,862 522,852.1506 522,840 L522,759 C522,745.7448 532.7448,735 546,735 Z" fill="none" stroke="#1e1a18" stroke-width="1.3"/><path d="M664,745 L678,745 C700.092,745 718,762.908 718,785 L718,842 C718,861.8828 701.8828,878 682,878 L660,878 C640.1172,878 624,861.8828 624,842 L624,785 C624,762.908 641.908,745 664,745 Z" fill="none" stroke="#1e1a18" stroke-width="1.3"/></g><g font-family="Liberation Sans, sans-serif"><text x="264" y="143.5" font-size="25.7" textLength="207" lengthAdjust="spacingAndGlyphs" font-weight="normal" fill="#1e1a18" stroke="#f3c178" stroke-width="0.6">DO YOU HAVE ALL DAY?</text><text x="185.6" y="200.4" font-size="18.3" textLength="28.80000000000001" lengthAdjust="spacingAndGlyphs" font-weight="normal" fill="#1e1a18">YES</text><text x="458.0" y="199.2" font-size="19.1" textLength="24.0" lengthAdjust="spacingAndGlyphs" font-weight="normal" fill="#1e1a18">NO</text><text x="438" y="237.5" font-size="12.9" textLength="170" lengthAdjust="spacingAndGlyphs" font-weight="normal" fill="#1e1a18" transform="rotate(1.4 523.0 233)">HAVE YOU HELD A MEETING</text><text x="435" y="253.5" font-size="12.9" textLength="185" lengthAdjust="spacingAndGlyphs" font-weight="normal" fill="#1e1a18" transform="rotate(1.4 527.5 249)">ABOUT THIS TOPIC BEFORE?</text><text x="114.4" y="246.0" font-size="14.3" textLength="95.6" lengthAdjust="spacingAndGlyphs" font-weight="normal" fill="#1e1a18">DO YOU REALLY</text><text x="113.6" y="264.0" font-size="14.3" textLength="82.1" lengthAdjust="spacingAndGlyphs" font-weight="normal" fill="#1e1a18">WANT to GET</text><text x="107.2" y="281.0" font-size="14.3" textLength="103.8" lengthAdjust="spacingAndGlyphs" font-weight="normal" fill="#1e1a18">SOMETHING DONE?</text><text x="87.2" y="332.3" font-size="16.6" textLength="27.599999999999994" lengthAdjust="spacingAndGlyphs" font-weight="normal" fill="#1e1a18">YES</text><text x="190.75" y="326.0" font-size="17.1" textLength="19.5" lengthAdjust="spacingAndGlyphs" font-weight="normal" fill="#1e1a18">NO</text><text x="208" y="356.9" font-size="17.9" textLength="79.69999999999999" lengthAdjust="spacingAndGlyphs" font-weight="normal" fill="#1e1a18">SO, YOU'RE</text><text x="197.6" y="383.0" font-size="21.4" textLength="116.4" lengthAdjust="spacingAndGlyphs" font-weight="normal" fill="#1e1a18">PROCRASTINATING</text><text x="315" y="376.0" font-size="28.6" textLength="14.600000000000023" lengthAdjust="spacingAndGlyphs" font-weight="normal" fill="#1e1a18">?</text><text x="68.2" y="383.3" font-size="16.6" textLength="48.3" lengthAdjust="spacingAndGlyphs" font-weight="normal" fill="#1e1a18">DOES IT</text><text x="57.3" y="396.8" font-size="13.6" textLength="99.7" lengthAdjust="spacingAndGlyphs" font-weight="normal" fill="#1e1a18" transform="rotate(-4.6 107.15 392)">REQUIRE CONSENSUS?</text><text x="52.0" y="441.3" font-size="16.6" textLength="24.0" lengthAdjust="spacingAndGlyphs" font-weight="normal" fill="#1e1a18">YES</text><text x="132.5" y="430.6" font-size="13.1" textLength="15.0" lengthAdjust="spacingAndGlyphs" font-weight="normal" fill="#1e1a18">NO</text><text x="53.9" y="484.2" font-size="13.3" textLength="43.1" lengthAdjust="spacingAndGlyphs" font-weight="normal" fill="#1e1a18">OH, MAN.</text><text x="45.6" y="498.6" font-size="13.3" textLength="54.4" lengthAdjust="spacingAndGlyphs" font-weight="normal" fill="#1e1a18">SORRY to</text><text x="43.3" y="516.1" font-size="13.3" textLength="59.7" lengthAdjust="spacingAndGlyphs" font-weight="normal" fill="#1e1a18">HEAR THAT.</text><text x="48.6" y="531.9" font-size="13.3" textLength="62.800000000000004" lengthAdjust="spacingAndGlyphs" font-weight="normal" fill="#1e1a18">YOU BETTER</text><text x="47" y="548.2" font-size="13.3" textLength="63" lengthAdjust="spacingAndGlyphs" font-weight="normal" fill="#1e1a18">PUT ON SOME</text><text x="47.9" y="565.6" font-size="13.3" textLength="65.1" lengthAdjust="spacingAndGlyphs" font-weight="normal" fill="#1e1a18">COFFEE and</text><text x="56.2" y="582.9" font-size="13.3" textLength="54.39999999999999" lengthAdjust="spacingAndGlyphs" font-weight="normal" fill="#1e1a18">CALL THAT</text><text x="53.9" y="602.0" font-size="14.3" textLength="55.1" lengthAdjust="spacingAndGlyphs" font-weight="normal" fill="#1e1a18">MEETING</text><text x="137" y="470.7" font-size="11.7" textLength="48.400000000000006" lengthAdjust="spacingAndGlyphs" font-weight="normal" fill="#1e1a18">ARE YOU</text><text x="140.2" y="485.9" font-size="11.7" textLength="40.5" lengthAdjust="spacingAndGlyphs" font-weight="normal" fill="#1e1a18">TRYING</text><text x="136" y="500.5" font-size="12.9" textLength="56.900000000000006" lengthAdjust="spacingAndGlyphs" font-weight="normal" fill="#1e1a18">to BUILD</text><text x="140.8" y="518.8" font-size="11.7" textLength="53.19999999999999" lengthAdjust="spacingAndGlyphs" font-weight="normal" fill="#1e1a18">A MESSED-</text><text x="147.7" y="534.5" font-size="11.7" textLength="51.0" lengthAdjust="spacingAndGlyphs" font-weight="normal" fill="#1e1a18">UP HORSE?</text><text x="136.4" y="587.9" font-size="15.4" textLength="22.19999999999999" lengthAdjust="spacingAndGlyphs" font-weight="normal" fill="#1e1a18">YES</text><text x="66" y="635.8" font-size="13.6" textLength="46.599999999999994" lengthAdjust="spacingAndGlyphs" font-weight="normal" fill="#1e1a18">THEN A</text><text x="60" y="654.0" font-size="14.3" textLength="57.400000000000006" lengthAdjust="spacingAndGlyphs" font-weight="normal" fill="#1e1a18">MEETING</text><text x="65.4" y="670.8" font-size="14.3" textLength="37.599999999999994" lengthAdjust="spacingAndGlyphs" font-weight="normal" fill="#1e1a18">IT IS!</text><text x="161.25" y="627.2" font-size="16.4" textLength="14.5" lengthAdjust="spacingAndGlyphs" font-weight="normal" fill="#1e1a18">NO</text><text x="200.6" y="428.8" font-size="13.7" textLength="25.80000000000001" lengthAdjust="spacingAndGlyphs" font-weight="normal" fill="#1e1a18">YES</text><text x="268.5" y="421.1" font-size="14.5" textLength="15.0" lengthAdjust="spacingAndGlyphs" font-weight="normal" fill="#1e1a18">NO</text><text x="224" y="463.5" font-size="12.9" textLength="40" lengthAdjust="spacingAndGlyphs" font-weight="normal" fill="#1e1a18">PERFECT</text><text x="266.5" y="456.0" font-size="17.1" textLength="3.5" lengthAdjust="spacingAndGlyphs" font-weight="normal" fill="#1e1a18">!</text><text x="221" y="480.0" font-size="14.3" textLength="28.69999999999999" lengthAdjust="spacingAndGlyphs" font-weight="normal" fill="#1e1a18">CALL</text><text x="233.7" y="491.4" font-size="13.7" textLength="26.600000000000023" lengthAdjust="spacingAndGlyphs" font-weight="normal" fill="#1e1a18">THAT</text><text x="227.9" y="505.0" font-size="14.3" textLength="42.099999999999994" lengthAdjust="spacingAndGlyphs" font-weight="normal" fill="#1e1a18">MEETING</text><text x="273" y="499.5" font-size="20.0" textLength="3.5" lengthAdjust="spacingAndGlyphs" font-weight="normal" fill="#1e1a18">!</text><text x="239.3" y="543.2" font-size="12.1" textLength="43.599999999999966" lengthAdjust="spacingAndGlyphs" font-weight="normal" fill="#1e1a18">HUH. SO</text><text x="235" y="556.8" font-size="13.6" textLength="62.80000000000001" lengthAdjust="spacingAndGlyphs" font-weight="normal" fill="#1e1a18">YOU'RE ON A</text><text x="238" y="570.5" font-size="13.6" textLength="64" lengthAdjust="spacingAndGlyphs" font-weight="normal" fill="#1e1a18">MEDITATION</text><text x="247.8" y="585.4" font-size="13.6" textLength="48.89999999999998" lengthAdjust="spacingAndGlyphs" font-weight="normal" fill="#1e1a18">RETREAT?</text><text x="211.8" y="627.5" font-size="14.3" textLength="20.399999999999977" lengthAdjust="spacingAndGlyphs" font-weight="normal" fill="#1e1a18">YES</text><text x="271.0" y="628.2" font-size="16.4" textLength="18.0" lengthAdjust="spacingAndGlyphs" font-weight="normal" fill="#1e1a18">NO</text><text x="201" y="660.9" font-size="12.1" textLength="26.599999999999994" lengthAdjust="spacingAndGlyphs" font-weight="normal" fill="#1e1a18">THEN</text><text x="202" y="687.0" font-size="10.7" textLength="39.400000000000006" lengthAdjust="spacingAndGlyphs" font-weight="normal" fill="#1e1a18">IS YOUR</text><text x="203" y="699.8" font-size="10.7" textLength="43.69999999999999" lengthAdjust="spacingAndGlyphs" font-weight="normal" fill="#1e1a18">MEETING,</text><text x="207.3" y="710.4" font-size="10.7" textLength="27.69999999999999" lengthAdjust="spacingAndGlyphs" font-weight="normal" fill="#1e1a18">RIGHT</text><text x="213.7" y="721.5" font-size="12.1" textLength="28.700000000000017" lengthAdjust="spacingAndGlyphs" font-weight="normal" fill="#1e1a18">HERE,</text><text x="206.3" y="734.2" font-size="12.1" textLength="29.69999999999999" lengthAdjust="spacingAndGlyphs" font-weight="normal" fill="#1e1a18">RIGHT</text><text x="217" y="746.0" font-size="12.1" textLength="26.5" lengthAdjust="spacingAndGlyphs" font-weight="normal" fill="#1e1a18">NOW.</text><text x="200" y="675.8" font-size="18.3" textLength="34" lengthAdjust="spacingAndGlyphs" font-weight="normal" fill="#1e1a18">THIS</text><text x="272.2" y="657.0" font-size="16.4" textLength="42.60000000000002" lengthAdjust="spacingAndGlyphs" font-weight="normal" fill="#1e1a18">SO YOU</text><text x="276.5" y="671.5" font-size="15.1" textLength="33.0" lengthAdjust="spacingAndGlyphs" font-weight="normal" fill="#1e1a18">JUST</text><text x="276.5" y="688.5" font-size="15.1" textLength="25.5" lengthAdjust="spacingAndGlyphs" font-weight="normal" fill="#1e1a18">LIKE</text><text x="275.4" y="705.5" font-size="15.1" textLength="56.400000000000034" lengthAdjust="spacingAndGlyphs" font-weight="normal" fill="#1e1a18">MEETINGS?</text><text x="265.0" y="755.3" font-size="13.8" textLength="16.0" lengthAdjust="spacingAndGlyphs" font-weight="normal" fill="#1e1a18">NO</text><text x="309.4" y="748.1" font-size="13.1" textLength="22.200000000000045" lengthAdjust="spacingAndGlyphs" font-weight="normal" fill="#1e1a18">YES</text><text x="104.2" y="701.7" font-size="17.1" textLength="63.39999999999999" lengthAdjust="spacingAndGlyphs" font-weight="normal" fill="#1e1a18">IS &quot;TALK-</text><text x="87.4" y="721.4" font-size="15.4" textLength="91.0" lengthAdjust="spacingAndGlyphs" font-weight="normal" fill="#1e1a18">TALKITY-TALK-</text><text x="87.4" y="737.0" font-size="15.4" textLength="93.4" lengthAdjust="spacingAndGlyphs" font-weight="normal" fill="#1e1a18">TALK&quot; in YOUR</text><text x="81.5" y="755.0" font-size="15.4" textLength="95.69999999999999" lengthAdjust="spacingAndGlyphs" font-weight="normal" fill="#1e1a18">JOB DESCRIPTION?</text><text x="52.0" y="796.4" font-size="12.6" textLength="21.0" lengthAdjust="spacingAndGlyphs" font-weight="normal" fill="#1e1a18">YES</text><text x="53" y="819.6" font-size="12.1" textLength="58.5" lengthAdjust="spacingAndGlyphs" font-weight="normal" fill="#1e1a18" transform="rotate(-6 92 820)">SO YOU'RE A</text><text x="53" y="831.5" font-size="12.9" textLength="77.6" lengthAdjust="spacingAndGlyphs" font-weight="normal" fill="#1e1a18" transform="rotate(-6 92 820)">TALK SHOW HOST?</text><text x="53.8" y="856.6" font-size="10.3" textLength="17.400000000000006" lengthAdjust="spacingAndGlyphs" font-weight="normal" fill="#1e1a18">YES</text><text x="114.0" y="852.4" font-size="11.2" textLength="14.0" lengthAdjust="spacingAndGlyphs" font-weight="normal" fill="#1e1a18">NO</text><text x="34" y="890.1" font-size="15.7" textLength="57" lengthAdjust="spacingAndGlyphs" font-weight="normal" fill="#1e1a18" transform="rotate(-4 62.5 884.6)">MEETING!</text><text x="119" y="874.0" font-size="12.1" textLength="53" lengthAdjust="spacingAndGlyphs" font-weight="normal" fill="#1e1a18" transform="rotate(-3 145.5 869.7)">POLITICIAN?</text><text x="100.2" y="904.6" font-size="10.3" textLength="15.599999999999994" lengthAdjust="spacingAndGlyphs" font-weight="normal" fill="#1e1a18">YES</text><text x="134.75" y="901.0" font-size="9.9" textLength="11.5" lengthAdjust="spacingAndGlyphs" font-weight="normal" fill="#1e1a18">NO</text><text x="160.2" y="911.6" font-size="11.0" textLength="36.20000000000002" lengthAdjust="spacingAndGlyphs" font-weight="normal" fill="#1e1a18">DESIGN</text><text x="151.7" y="923.2" font-size="11.0" textLength="56.30000000000001" lengthAdjust="spacingAndGlyphs" font-weight="normal" fill="#1e1a18">RESEARCH-</text><text x="152.8" y="937.0" font-size="12.1" textLength="60.599999999999994" lengthAdjust="spacingAndGlyphs" font-weight="normal" fill="#1e1a18">STRATEGIST-</text><text x="152.8" y="946.6" font-size="11.0" textLength="52.099999999999994" lengthAdjust="spacingAndGlyphs" font-weight="normal" fill="#1e1a18">THINKER?</text><text x="108.0" y="949.8" font-size="13.7" textLength="18.0" lengthAdjust="spacingAndGlyphs" font-weight="normal" fill="#1e1a18">YES</text><text x="227.25" y="944.6" font-size="13.1" textLength="10.5" lengthAdjust="spacingAndGlyphs" font-weight="normal" fill="#1e1a18">NO</text><text x="268" y="947.6" font-size="11.4" textLength="49.69999999999999" lengthAdjust="spacingAndGlyphs" font-weight="normal" fill="#1e1a18">I GIVE UP.</text><text x="243.2" y="961.3" font-size="10.3" textLength="91.30000000000001" lengthAdjust="spacingAndGlyphs" font-weight="normal" fill="#1e1a18">CALL A MEETING to</text><text x="238.7" y="972.0" font-size="10.3" textLength="116.30000000000001" lengthAdjust="spacingAndGlyphs" font-weight="normal" fill="#1e1a18">FIGURE OUT WHAT EXACTLY</text><text x="235.3" y="982.6" font-size="10.3" textLength="107.69999999999999" lengthAdjust="spacingAndGlyphs" font-weight="normal" fill="#1e1a18">YOU DO, THEN START at</text><text x="252" y="993.2" font-size="10.3" textLength="73.69999999999999" lengthAdjust="spacingAndGlyphs" font-weight="normal" fill="#1e1a18">THE TOP AGAIN</text><text x="209" y="789.5" font-size="12.9" textLength="92.69999999999999" lengthAdjust="spacingAndGlyphs" font-weight="normal" fill="#1e1a18">YET YOU WISH to</text><text x="203.8" y="802.0" font-size="10.6" textLength="83.0" lengthAdjust="spacingAndGlyphs" font-weight="normal" fill="#1e1a18">PERPETUATE THE</text><text x="212.3" y="811.8" font-size="9.4" textLength="100.0" lengthAdjust="spacingAndGlyphs" font-weight="normal" fill="#1e1a18">OPPRESSIVE TYRANNY</text><text x="210.2" y="824.2" font-size="10.3" textLength="109.60000000000002" lengthAdjust="spacingAndGlyphs" font-weight="normal" fill="#1e1a18">of PURPOSELESS BANTER</text><text x="213.4" y="835.9" font-size="10.3" textLength="95.70000000000002" lengthAdjust="spacingAndGlyphs" font-weight="normal" fill="#1e1a18">and BOREDOM WITHIN</text><text x="218.7" y="846.2" font-size="10.3" textLength="111.69999999999999" lengthAdjust="spacingAndGlyphs" font-weight="normal" fill="#1e1a18">THE CORPORATE PARADIGM?</text><text x="223.4" y="882.7" font-size="12.0" textLength="19.19999999999999" lengthAdjust="spacingAndGlyphs" font-weight="normal" fill="#1e1a18">YES</text><text x="254.96" y="904.3" font-size="10.9" textLength="28.080000000000013" lengthAdjust="spacingAndGlyphs" font-weight="normal" fill="#1e1a18">FREAK</text><text x="330.5" y="876.6" font-size="13.1" textLength="17.0" lengthAdjust="spacingAndGlyphs" font-weight="normal" fill="#1e1a18">NO</text><text x="317.7" y="905.2" font-size="17.1" textLength="54.5" lengthAdjust="spacingAndGlyphs" font-weight="normal" fill="#1e1a18">DISRUPT!</text><text x="313.2" y="919.0" font-size="15.0" textLength="65.69999999999999" lengthAdjust="spacingAndGlyphs" font-weight="normal" fill="#1e1a18">NO MEETING!</text><text x="430.0" y="306.7" font-size="17.7" textLength="30.0" lengthAdjust="spacingAndGlyphs" font-weight="normal" fill="#1e1a18">YES</text><text x="388" y="342.3" font-size="11.1" textLength="56.69999999999999" lengthAdjust="spacingAndGlyphs" font-weight="normal" fill="#1e1a18">SO YOU'RE</text><text x="376" y="355.9" font-size="11.1" textLength="79.69999999999999" lengthAdjust="spacingAndGlyphs" font-weight="normal" fill="#1e1a18">REHASHING THE</text><text x="374.5" y="370.2" font-size="11.1" textLength="97.80000000000001" lengthAdjust="spacingAndGlyphs" font-weight="normal" fill="#1e1a18">SAME THING AGAIN</text><text x="365" y="384.7" font-size="11.1" textLength="117.19999999999999" lengthAdjust="spacingAndGlyphs" font-weight="normal" fill="#1e1a18">CAUSE NOBODY LISTENS</text><text x="357" y="400.7" font-size="11.1" textLength="96.69999999999999" lengthAdjust="spacingAndGlyphs" font-weight="normal" fill="#1e1a18">and NOTHING EVER</text><text x="399.9" y="415.3" font-size="12.9" textLength="56.80000000000001" lengthAdjust="spacingAndGlyphs" font-weight="normal" fill="#1e1a18">CHANGES?</text><text x="460.5" y="452.8" font-size="15.1" textLength="17.0" lengthAdjust="spacingAndGlyphs" font-weight="normal" fill="#1e1a18">NO</text><text x="338.4" y="455.5" font-size="14.3" textLength="25.200000000000045" lengthAdjust="spacingAndGlyphs" font-weight="normal" fill="#1e1a18">YES</text><text x="337" y="495.6" font-size="14.6" textLength="61.39999999999998" lengthAdjust="spacingAndGlyphs" font-weight="normal" fill="#1e1a18">YET, STILL,</text><text x="333" y="511.9" font-size="15.7" textLength="65.39999999999998" lengthAdjust="spacingAndGlyphs" font-weight="normal" fill="#1e1a18">YOU EXPECT</text><text x="337" y="527.5" font-size="14.6" textLength="42.80000000000001" lengthAdjust="spacingAndGlyphs" font-weight="normal" fill="#1e1a18">THINGS</text><text x="346.5" y="541.2" font-size="12.1" textLength="24.0" lengthAdjust="spacingAndGlyphs" font-weight="normal" fill="#1e1a18">WILL</text><text x="348" y="558.1" font-size="14.6" textLength="57" lengthAdjust="spacingAndGlyphs" font-weight="normal" fill="#1e1a18">CHANGE?</text><text x="430.3" y="486.9" font-size="12.6" textLength="46.599999999999966" lengthAdjust="spacingAndGlyphs" font-weight="normal" fill="#1e1a18">SO THIS IS</text><text x="429" y="501.4" font-size="12.6" textLength="57" lengthAdjust="spacingAndGlyphs" font-weight="normal" fill="#1e1a18">A &quot;CHECK-IN&quot;</text><text x="429" y="513.0" font-size="11.4" textLength="54.5" lengthAdjust="spacingAndGlyphs" font-weight="normal" fill="#1e1a18">OR &quot;UPDATE&quot;</text><text x="430.3" y="524.1" font-size="12.6" textLength="53.19999999999999" lengthAdjust="spacingAndGlyphs" font-weight="normal" fill="#1e1a18">OR &quot;REVIEW&quot;</text><text x="334.4" y="594.5" font-size="14.3" textLength="22.200000000000045" lengthAdjust="spacingAndGlyphs" font-weight="normal" fill="#1e1a18">YES</text><text x="377.75" y="597.8" font-size="15.1" textLength="15.5" lengthAdjust="spacingAndGlyphs" font-weight="normal" fill="#1e1a18">NO</text><text x="409.8" y="583.0" font-size="11.4" textLength="23.399999999999977" lengthAdjust="spacingAndGlyphs" font-weight="normal" fill="#1e1a18">YES</text><text x="457.25" y="567.3" font-size="13.8" textLength="14.5" lengthAdjust="spacingAndGlyphs" font-weight="normal" fill="#1e1a18">NO</text><text x="416.6" y="605.1" font-size="10.3" textLength="43.799999999999955" lengthAdjust="spacingAndGlyphs" font-weight="normal" fill="#1e1a18">WILL THIS</text><text x="425.7" y="614.2" font-size="9.3" textLength="45.30000000000001" lengthAdjust="spacingAndGlyphs" font-weight="normal" fill="#1e1a18">MEETING</text><text x="430.5" y="624.3" font-size="10.3" textLength="43.10000000000002" lengthAdjust="spacingAndGlyphs" font-weight="normal" fill="#1e1a18">MAKE THE</text><text x="431.7" y="635.1" font-size="10.3" textLength="43.10000000000002" lengthAdjust="spacingAndGlyphs" font-weight="normal" fill="#1e1a18">SLIGHTEST</text><text x="431.7" y="647.0" font-size="10.3" textLength="48.60000000000002" lengthAdjust="spacingAndGlyphs" font-weight="normal" fill="#1e1a18">DIFFERENCE</text><text x="435.3" y="660.6" font-size="10.3" textLength="33.5" lengthAdjust="spacingAndGlyphs" font-weight="normal" fill="#1e1a18">in THE</text><text x="440" y="674.0" font-size="12.1" textLength="42" lengthAdjust="spacingAndGlyphs" font-weight="normal" fill="#1e1a18">PROJECT?</text><text x="352" y="634.5" font-size="12.1" textLength="55" lengthAdjust="spacingAndGlyphs" font-weight="normal" fill="#1e1a18">YOU KNOW</text><text x="354" y="651.2" font-size="12.1" textLength="56" lengthAdjust="spacingAndGlyphs" font-weight="normal" fill="#1e1a18">THAT'S THE</text><text x="356" y="666.9" font-size="12.1" textLength="59" lengthAdjust="spacingAndGlyphs" font-weight="normal" fill="#1e1a18">DICTIONARY</text><text x="361" y="681.7" font-size="11.4" textLength="51.60000000000002" lengthAdjust="spacingAndGlyphs" font-weight="normal" fill="#1e1a18">DEFINITION</text><text x="360.6" y="699.8" font-size="13.7" textLength="55.39999999999998" lengthAdjust="spacingAndGlyphs" font-weight="normal" fill="#1e1a18">of INSANE,</text><text x="370.7" y="714.6" font-size="12.1" textLength="38.30000000000001" lengthAdjust="spacingAndGlyphs" font-weight="normal" fill="#1e1a18">RIGHT?</text><text x="435.2" y="720.4" font-size="12.6" textLength="18.600000000000023" lengthAdjust="spacingAndGlyphs" font-weight="normal" fill="#1e1a18">YES</text><text x="473.25" y="751.9" font-size="12.5" textLength="14.5" lengthAdjust="spacingAndGlyphs" font-weight="normal" fill="#1e1a18">NO</text><text x="398.75" y="756.3" font-size="13.8" textLength="11.5" lengthAdjust="spacingAndGlyphs" font-weight="normal" fill="#1e1a18">NO</text><text x="352.8" y="765.4" font-size="12.6" textLength="20.399999999999977" lengthAdjust="spacingAndGlyphs" font-weight="normal" fill="#1e1a18">YES</text><text x="348" y="795.9" font-size="11.7" textLength="40" lengthAdjust="spacingAndGlyphs" font-weight="normal" fill="#1e1a18">OK THEN</text><text x="351" y="809.1" font-size="11.7" textLength="24" lengthAdjust="spacingAndGlyphs" font-weight="normal" fill="#1e1a18">CALL</text><text x="357" y="821.1" font-size="11.7" textLength="16.899999999999977" lengthAdjust="spacingAndGlyphs" font-weight="normal" fill="#1e1a18">THE</text><text x="353" y="832.6" font-size="10.3" textLength="36.39999999999998" lengthAdjust="spacingAndGlyphs" font-weight="normal" fill="#1e1a18">MEETING</text><text x="423" y="773.8" font-size="13.7" textLength="27.399999999999977" lengthAdjust="spacingAndGlyphs" font-weight="normal" fill="#1e1a18">THEN</text><text x="421.7" y="787.0" font-size="15.0" textLength="50.30000000000001" lengthAdjust="spacingAndGlyphs" font-weight="normal" fill="#1e1a18">MEETING!</text><text x="380" y="866.5" font-size="11.4" textLength="27.30000000000001" lengthAdjust="spacingAndGlyphs" font-weight="normal" fill="#1e1a18" transform="rotate(8 393.65 862.5)">IT IS.</text><text x="385" y="874.8" font-size="7.9" textLength="8" lengthAdjust="spacingAndGlyphs" font-weight="normal" fill="#1e1a18" transform="rotate(8 389.0 872)">NO</text><text x="390.5" y="885.8" font-size="10.7" textLength="35.89999999999998" lengthAdjust="spacingAndGlyphs" font-weight="normal" fill="#1e1a18" transform="rotate(6 408.45 882)">MEETING.</text><text x="458.5" y="817.8" font-size="13.6" textLength="42.5" lengthAdjust="spacingAndGlyphs" font-weight="normal" fill="#1e1a18">DOES THE</text><text x="452" y="829.2" font-size="12.1" textLength="43.5" lengthAdjust="spacingAndGlyphs" font-weight="normal" fill="#1e1a18">MEETING</text><text x="452" y="841.5" font-size="13.6" textLength="46.5" lengthAdjust="spacingAndGlyphs" font-weight="normal" fill="#1e1a18">INVOLVE</text><text x="454.75" y="858.5" font-size="15.7" textLength="47.25" lengthAdjust="spacingAndGlyphs" font-weight="normal" fill="#1e1a18">DONUTS?</text><text x="450.6" y="892.8" font-size="13.7" textLength="16.799999999999955" lengthAdjust="spacingAndGlyphs" font-weight="normal" fill="#1e1a18">YES</text><text x="465.5" y="918.6" font-size="13.1" textLength="13.0" lengthAdjust="spacingAndGlyphs" font-weight="normal" fill="#1e1a18">NO</text><text x="416" y="933.7" font-size="13.4" textLength="22.399999999999977" lengthAdjust="spacingAndGlyphs" font-weight="normal" fill="#1e1a18" transform="rotate(5 427.2 929)">NO</text><text x="409.7" y="953.0" font-size="17.1" textLength="55.0" lengthAdjust="spacingAndGlyphs" font-weight="normal" fill="#1e1a18" transform="rotate(5 437.2 947)">MEETING</text><text x="467" y="963.0" font-size="34.3" textLength="14" lengthAdjust="spacingAndGlyphs" font-weight="normal" fill="#1e1a18" transform="rotate(12 474.0 951)">!!</text><text x="589.5" y="307.9" font-size="19.7" textLength="23.0" lengthAdjust="spacingAndGlyphs" font-weight="normal" fill="#1e1a18">NO</text><text x="542.5" y="345.6" font-size="13.3" textLength="118.5" lengthAdjust="spacingAndGlyphs" font-weight="normal" fill="#1e1a18">HAVE YOU PREPARED</text><text x="534" y="360.6" font-size="13.3" textLength="127" lengthAdjust="spacingAndGlyphs" font-weight="normal" fill="#1e1a18">EVERYONE in ADVANCE</text><text x="537" y="376.6" font-size="13.3" textLength="93" lengthAdjust="spacingAndGlyphs" font-weight="normal" fill="#1e1a18">by GIVING THEM</text><text x="530.6" y="394.6" font-size="13.3" textLength="129.0" lengthAdjust="spacingAndGlyphs" font-weight="normal" fill="#1e1a18">INTRODUCTORY READING</text><text x="532" y="410.6" font-size="13.3" textLength="83.70000000000005" lengthAdjust="spacingAndGlyphs" font-weight="normal" fill="#1e1a18">MATERIAL and</text><text x="563.8" y="425.6" font-size="13.3" textLength="75.80000000000007" lengthAdjust="spacingAndGlyphs" font-weight="normal" fill="#1e1a18">INFORMATION?</text><text x="518.2" y="465.6" font-size="16.0" textLength="27.59999999999991" lengthAdjust="spacingAndGlyphs" font-weight="normal" fill="#1e1a18">YES</text><text x="624.0" y="473.2" font-size="19.1" textLength="20.0" lengthAdjust="spacingAndGlyphs" font-weight="normal" fill="#1e1a18">NO</text><text x="534.6" y="509.2" font-size="15.0" textLength="127.39999999999998" lengthAdjust="spacingAndGlyphs" font-weight="normal" fill="#1e1a18">AND YOU REALLY THINK</text><text x="525" y="524.6" font-size="13.3" textLength="137" lengthAdjust="spacingAndGlyphs" font-weight="normal" fill="#1e1a18">EVERYONE PREPARED and</text><text x="533" y="541.2" font-size="15.0" textLength="114.60000000000002" lengthAdjust="spacingAndGlyphs" font-weight="normal" fill="#1e1a18">IS READY to ROLL?</text><text x="535.8" y="597.3" font-size="16.6" textLength="26.40000000000009" lengthAdjust="spacingAndGlyphs" font-weight="normal" fill="#1e1a18">YES</text><text x="644.0" y="596.9" font-size="19.7" textLength="22.0" lengthAdjust="spacingAndGlyphs" font-weight="normal" fill="#1e1a18">NO</text><text x="526.8" y="636.8" font-size="16.4" textLength="85.20000000000005" lengthAdjust="spacingAndGlyphs" font-weight="normal" fill="#1e1a18" transform="rotate(-8 569.4 631)">HOLY SMOKES!</text><text x="526.8" y="652.8" font-size="16.4" textLength="61.200000000000045" lengthAdjust="spacingAndGlyphs" font-weight="normal" fill="#1e1a18" transform="rotate(-8 557.4 647)">CALL THE</text><text x="528" y="670.8" font-size="16.4" textLength="60" lengthAdjust="spacingAndGlyphs" font-weight="normal" fill="#1e1a18" transform="rotate(-8 558.0 665)">MEETING</text><text x="534" y="690.8" font-size="16.4" textLength="43" lengthAdjust="spacingAndGlyphs" font-weight="normal" fill="#1e1a18" transform="rotate(-8 555.5 685)">ASAP!</text><text x="636" y="646.0" font-size="14.3" textLength="47" lengthAdjust="spacingAndGlyphs" font-weight="normal" fill="#1e1a18">DO YOU</text><text x="628.7" y="665.0" font-size="14.3" textLength="68.79999999999995" lengthAdjust="spacingAndGlyphs" font-weight="normal" fill="#1e1a18">BELIEVE in</text><text x="637.5" y="682.8" font-size="15.0" textLength="45.5" lengthAdjust="spacingAndGlyphs" font-weight="normal" fill="#1e1a18">MAGIC?</text><text x="576.6" y="720.0" font-size="17.1" textLength="22.799999999999955" lengthAdjust="spacingAndGlyphs" font-weight="normal" fill="#1e1a18">YES</text><text x="669.0" y="725.2" font-size="16.4" textLength="14.0" lengthAdjust="spacingAndGlyphs" font-weight="normal" fill="#1e1a18">NO</text><text x="536.6" y="753.6" font-size="13.7" textLength="30.399999999999977" lengthAdjust="spacingAndGlyphs" font-weight="normal" fill="#1e1a18">GOOD.</text><text x="529" y="767.8" font-size="12.6" textLength="66" lengthAdjust="spacingAndGlyphs" font-weight="normal" fill="#1e1a18">CAUSE THAT'S</text><text x="529" y="782.4" font-size="12.6" textLength="47" lengthAdjust="spacingAndGlyphs" font-weight="normal" fill="#1e1a18">THE ONLY</text><text x="529" y="797.1" font-size="12.6" textLength="73.39999999999998" lengthAdjust="spacingAndGlyphs" font-weight="normal" fill="#1e1a18">WAY ANYTHING'S</text><text x="539.5" y="811.5" font-size="13.7" textLength="32.200000000000045" lengthAdjust="spacingAndGlyphs" font-weight="normal" fill="#1e1a18">GONNA</text><text x="536.6" y="824.9" font-size="12.6" textLength="50.39999999999998" lengthAdjust="spacingAndGlyphs" font-weight="normal" fill="#1e1a18">GET DONE.</text><text x="546.8" y="840.0" font-size="14.3" textLength="18.200000000000045" lengthAdjust="spacingAndGlyphs" font-weight="normal" fill="#1e1a18">NO.</text><text x="536.6" y="856.0" font-size="14.3" textLength="52.39999999999998" lengthAdjust="spacingAndGlyphs" font-weight="normal" fill="#1e1a18">MEETING.</text><text x="639" y="764.8" font-size="13.7" textLength="63" lengthAdjust="spacingAndGlyphs" font-weight="normal" fill="#1e1a18">ME NEITHER.</text><text x="637.5" y="782.9" font-size="15.7" textLength="67.29999999999995" lengthAdjust="spacingAndGlyphs" font-weight="normal" fill="#1e1a18">RESCHEDULE</text><text x="642" y="797.5" font-size="13.7" textLength="26" lengthAdjust="spacingAndGlyphs" font-weight="normal" fill="#1e1a18">THAT</text><text x="637.5" y="813.0" font-size="14.6" textLength="46.5" lengthAdjust="spacingAndGlyphs" font-weight="normal" fill="#1e1a18">MEETING,</text><text x="631.7" y="824.7" font-size="14.6" textLength="51.19999999999993" lengthAdjust="spacingAndGlyphs" font-weight="normal" fill="#1e1a18">THEN ASK</text><text x="633" y="840.1" font-size="14.6" textLength="57" lengthAdjust="spacingAndGlyphs" font-weight="normal" fill="#1e1a18">YOURSELF</text><text x="633" y="855.2" font-size="15.7" textLength="28" lengthAdjust="spacingAndGlyphs" font-weight="normal" fill="#1e1a18">THIS</text><text x="640" y="868.0" font-size="14.6" textLength="54.60000000000002" lengthAdjust="spacingAndGlyphs" font-weight="normal" fill="#1e1a18">QUESTION:</text><text x="519" y="947.8" font-size="12.9" textLength="186" lengthAdjust="spacingAndGlyphs" font-weight="normal" fill="#1e1a18">WENDY MACNAUGHTON</text><text x="548" y="980.0" font-size="11.4" textLength="27" lengthAdjust="spacingAndGlyphs" font-weight="normal" fill="#1e1a18">for</text><text x="579" y="982.0" font-size="27.1" textLength="44" lengthAdjust="spacingAndGlyphs" font-weight="normal" fill="#1e1a18">TED</text><text x="623" y="977.5" font-size="12.9" textLength="42" lengthAdjust="spacingAndGlyphs" font-weight="normal" fill="#1e1a18">.com</text></g><g font-family="Liberation Sans, sans-serif"><text x="92.7" y="96" font-size="75.6" textLength="21.7" lengthAdjust="spacingAndGlyphs" fill="#1e1a18" stroke="#1e1a18" stroke-width="3.2" stroke-linejoin="round" font-weight="normal">S</text><text x="92.7" y="96" font-size="75.6" textLength="21.7" lengthAdjust="spacingAndGlyphs" fill="url(#tg)" stroke="url(#tg)" stroke-width="1.2" stroke-linejoin="round" font-weight="normal">S</text><text x="116.4" y="91" font-size="65.4" textLength="26.2" lengthAdjust="spacingAndGlyphs" fill="#1e1a18" stroke="#1e1a18" stroke-width="3.2" stroke-linejoin="round" font-weight="normal">H</text><text x="116.4" y="91" font-size="65.4" textLength="26.2" lengthAdjust="spacingAndGlyphs" fill="url(#tg)" stroke="url(#tg)" stroke-width="1.2" stroke-linejoin="round" font-weight="normal">H</text><text x="144.5" y="87" font-size="56.7" textLength="23.9" lengthAdjust="spacingAndGlyphs" fill="#1e1a18" stroke="#1e1a18" stroke-width="3.2" stroke-linejoin="round" font-weight="normal">O</text><text x="144.5" y="87" font-size="56.7" textLength="23.9" lengthAdjust="spacingAndGlyphs" fill="url(#tg)" stroke="url(#tg)" stroke-width="1.2" stroke-linejoin="round" font-weight="normal">O</text><text x="171.4" y="88" font-size="59.6" textLength="26.2" lengthAdjust="spacingAndGlyphs" fill="#1e1a18" stroke="#1e1a18" stroke-width="3.2" stroke-linejoin="round" font-weight="normal">U</text><text x="171.4" y="88" font-size="59.6" textLength="26.2" lengthAdjust="spacingAndGlyphs" fill="url(#tg)" stroke="url(#tg)" stroke-width="1.2" stroke-linejoin="round" font-weight="normal">U</text><text x="197.8" y="91" font-size="64.0" textLength="19.4" lengthAdjust="spacingAndGlyphs" fill="#1e1a18" stroke="#1e1a18" stroke-width="3.2" stroke-linejoin="round" font-weight="normal">L</text><text x="197.8" y="91" font-size="64.0" textLength="19.4" lengthAdjust="spacingAndGlyphs" fill="url(#tg)" stroke="url(#tg)" stroke-width="1.2" stroke-linejoin="round" font-weight="normal">L</text><text x="216.7" y="89" font-size="58.1" textLength="21.7" lengthAdjust="spacingAndGlyphs" fill="#1e1a18" stroke="#1e1a18" stroke-width="3.2" stroke-linejoin="round" font-weight="normal">D</text><text x="216.7" y="89" font-size="58.1" textLength="21.7" lengthAdjust="spacingAndGlyphs" fill="url(#tg)" stroke="url(#tg)" stroke-width="1.2" stroke-linejoin="round" font-weight="normal">D</text><text x="245.5" y="85" font-size="52.3" textLength="23.9" lengthAdjust="spacingAndGlyphs" fill="#1e1a18" stroke="#1e1a18" stroke-width="3.2" stroke-linejoin="round" font-weight="normal">Y</text><text x="245.5" y="85" font-size="52.3" textLength="23.9" lengthAdjust="spacingAndGlyphs" fill="url(#tg)" stroke="url(#tg)" stroke-width="1.2" stroke-linejoin="round" font-weight="normal">Y</text><text x="269.8" y="81" font-size="39.2" textLength="19.4" lengthAdjust="spacingAndGlyphs" fill="#1e1a18" stroke="#1e1a18" stroke-width="3.2" stroke-linejoin="round" font-weight="normal">O</text><text x="269.8" y="81" font-size="39.2" textLength="19.4" lengthAdjust="spacingAndGlyphs" fill="url(#tg)" stroke="url(#tg)" stroke-width="1.2" stroke-linejoin="round" font-weight="normal">O</text><text x="291.7" y="82.5" font-size="43.6" textLength="21.7" lengthAdjust="spacingAndGlyphs" fill="#1e1a18" stroke="#1e1a18" stroke-width="3.2" stroke-linejoin="round" font-weight="normal">U</text><text x="291.7" y="82.5" font-size="43.6" textLength="21.7" lengthAdjust="spacingAndGlyphs" fill="url(#tg)" stroke="url(#tg)" stroke-width="1.2" stroke-linejoin="round" font-weight="normal">U</text><text x="323.1" y="82.2" font-size="49.3" textLength="15.2" lengthAdjust="spacingAndGlyphs" fill="#1e1a18" stroke="#1e1a18" stroke-width="3.2" stroke-linejoin="round" font-weight="normal">C</text><text x="323.1" y="82.2" font-size="49.3" textLength="15.2" lengthAdjust="spacingAndGlyphs" fill="url(#tg)" stroke="url(#tg)" stroke-width="1.2" stroke-linejoin="round" font-weight="normal">C</text><text x="341.2" y="82.2" font-size="48.3" textLength="22.7" lengthAdjust="spacingAndGlyphs" fill="#1e1a18" stroke="#1e1a18" stroke-width="3.2" stroke-linejoin="round" font-weight="normal">A</text><text x="341.2" y="82.2" font-size="48.3" textLength="22.7" lengthAdjust="spacingAndGlyphs" fill="url(#tg)" stroke="url(#tg)" stroke-width="1.2" stroke-linejoin="round" font-weight="normal">A</text><text x="366.1" y="83.5" font-size="51.2" textLength="18.1" lengthAdjust="spacingAndGlyphs" fill="#1e1a18" stroke="#1e1a18" stroke-width="3.2" stroke-linejoin="round" font-weight="normal">L</text><text x="366.1" y="83.5" font-size="51.2" textLength="18.1" lengthAdjust="spacingAndGlyphs" fill="url(#tg)" stroke="url(#tg)" stroke-width="1.2" stroke-linejoin="round" font-weight="normal">L</text><text x="385.3" y="83.5" font-size="51.2" textLength="19.6" lengthAdjust="spacingAndGlyphs" fill="#1e1a18" stroke="#1e1a18" stroke-width="3.2" stroke-linejoin="round" font-weight="normal">L</text><text x="385.3" y="83.5" font-size="51.2" textLength="19.6" lengthAdjust="spacingAndGlyphs" fill="url(#tg)" stroke="url(#tg)" stroke-width="1.2" stroke-linejoin="round" font-weight="normal">L</text><text x="408.6" y="81" font-size="48.7" textLength="18.0" lengthAdjust="spacingAndGlyphs" fill="#1e1a18" stroke="#1e1a18" stroke-width="3.2" stroke-linejoin="round" font-weight="normal">T</text><text x="408.6" y="81" font-size="48.7" textLength="18.0" lengthAdjust="spacingAndGlyphs" fill="url(#tg)" stroke="url(#tg)" stroke-width="1.2" stroke-linejoin="round" font-weight="normal">T</text><text x="426.7" y="81" font-size="48.7" textLength="18.0" lengthAdjust="spacingAndGlyphs" fill="#1e1a18" stroke="#1e1a18" stroke-width="3.2" stroke-linejoin="round" font-weight="normal">H</text><text x="426.7" y="81" font-size="48.7" textLength="18.0" lengthAdjust="spacingAndGlyphs" fill="url(#tg)" stroke="url(#tg)" stroke-width="1.2" stroke-linejoin="round" font-weight="normal">H</text><text x="444.7" y="81" font-size="48.7" textLength="20.5" lengthAdjust="spacingAndGlyphs" fill="#1e1a18" stroke="#1e1a18" stroke-width="3.2" stroke-linejoin="round" font-weight="normal">A</text><text x="444.7" y="81" font-size="48.7" textLength="20.5" lengthAdjust="spacingAndGlyphs" fill="url(#tg)" stroke="url(#tg)" stroke-width="1.2" stroke-linejoin="round" font-weight="normal">A</text><text x="463.8" y="81" font-size="48.7" textLength="19.4" lengthAdjust="spacingAndGlyphs" fill="#1e1a18" stroke="#1e1a18" stroke-width="3.2" stroke-linejoin="round" font-weight="normal">T</text><text x="463.8" y="81" font-size="48.7" textLength="19.4" lengthAdjust="spacingAndGlyphs" fill="url(#tg)" stroke="url(#tg)" stroke-width="1.2" stroke-linejoin="round" font-weight="normal">T</text><text x="492.4" y="88" font-size="62.5" textLength="37.2" lengthAdjust="spacingAndGlyphs" fill="#1e1a18" stroke="#1e1a18" stroke-width="3.2" stroke-linejoin="round" font-weight="normal">M</text><text x="492.4" y="88" font-size="62.5" textLength="37.2" lengthAdjust="spacingAndGlyphs" fill="url(#tg)" stroke="url(#tg)" stroke-width="1.2" stroke-linejoin="round" font-weight="normal">M</text><text x="529.8" y="87" font-size="59.6" textLength="18.9" lengthAdjust="spacingAndGlyphs" fill="#1e1a18" stroke="#1e1a18" stroke-width="3.2" stroke-linejoin="round" font-weight="normal">E</text><text x="529.8" y="87" font-size="59.6" textLength="18.9" lengthAdjust="spacingAndGlyphs" fill="url(#tg)" stroke="url(#tg)" stroke-width="1.2" stroke-linejoin="round" font-weight="normal">E</text><text x="552.5" y="87" font-size="59.6" textLength="16.5" lengthAdjust="spacingAndGlyphs" fill="#1e1a18" stroke="#1e1a18" stroke-width="3.2" stroke-linejoin="round" font-weight="normal">E</text><text x="552.5" y="87" font-size="59.6" textLength="16.5" lengthAdjust="spacingAndGlyphs" fill="url(#tg)" stroke="url(#tg)" stroke-width="1.2" stroke-linejoin="round" font-weight="normal">E</text><text x="568.7" y="86" font-size="58.1" textLength="20.5" lengthAdjust="spacingAndGlyphs" fill="#1e1a18" stroke="#1e1a18" stroke-width="3.2" stroke-linejoin="round" font-weight="normal">T</text><text x="568.7" y="86" font-size="58.1" textLength="20.5" lengthAdjust="spacingAndGlyphs" fill="url(#tg)" stroke="url(#tg)" stroke-width="1.2" stroke-linejoin="round" font-weight="normal">T</text><text x="592.2" y="86" font-size="58.1" textLength="10.4" lengthAdjust="spacingAndGlyphs" fill="#1e1a18" stroke="#1e1a18" stroke-width="3.2" stroke-linejoin="round" font-weight="normal">I</text><text x="592.2" y="86" font-size="58.1" textLength="10.4" lengthAdjust="spacingAndGlyphs" fill="url(#tg)" stroke="url(#tg)" stroke-width="1.2" stroke-linejoin="round" font-weight="normal">I</text><text x="605.0" y="86" font-size="58.1" textLength="23.1" lengthAdjust="spacingAndGlyphs" fill="#1e1a18" stroke="#1e1a18" stroke-width="3.2" stroke-linejoin="round" font-weight="normal">N</text><text x="605.0" y="86" font-size="58.1" textLength="23.1" lengthAdjust="spacingAndGlyphs" fill="url(#tg)" stroke="url(#tg)" stroke-width="1.2" stroke-linejoin="round" font-weight="normal">N</text><text x="629.2" y="88" font-size="59.6" textLength="28.5" lengthAdjust="spacingAndGlyphs" fill="#1e1a18" stroke="#1e1a18" stroke-width="3.2" stroke-linejoin="round" font-weight="normal">G</text><text x="629.2" y="88" font-size="59.6" textLength="28.5" lengthAdjust="spacingAndGlyphs" fill="url(#tg)" stroke="url(#tg)" stroke-width="1.2" stroke-linejoin="round" font-weight="normal">G</text><path d="M665.5,57 C664.5,47 684,43 683,57 C682,66 673,67 672.5,76 L672.5,87" fill="none" stroke="#1e1a18" stroke-width="7.4" stroke-linecap="round"/><path d="M665.5,57 C664.5,47 684,43 683,57 C682,66 673,67 672.5,76 L672.5,87" fill="none" stroke="url(#tg)" stroke-width="5.2" stroke-linecap="round"/><circle cx="666.5" cy="98" r="3.5" fill="#e8684a" stroke="#1e1a18" stroke-width="0.8"/></g></svg>
</body></html>
